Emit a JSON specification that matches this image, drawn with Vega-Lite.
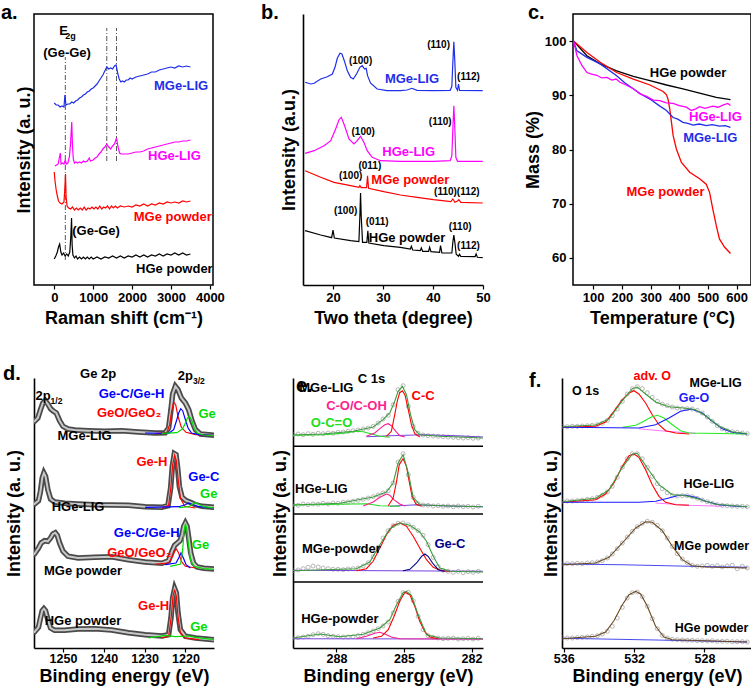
{
  "$schema": "https://vega.github.io/schema/vega-lite/v6.json",
  "background": "white",
  "padding": {"left": 0, "top": 2, "right": 0, "bottom": 0},
  "bounds": "full",
  "spacing": 35,
  "resolve": {"scale": {"color": "independent"}},
  "config": {
    "font": "Liberation Sans",
    "view": {"stroke": null},
    "axis": {"grid": false, "labelFont": "Liberation Sans", "labelFontWeight": "bold", "labelFontSize": 13, "labelColor": "#000", "titleFont": "Liberation Sans", "titleFontWeight": "bold", "titleFontSize": 18, "titleColor": "#000", "domainColor": "#000", "domainWidth": 1.6, "tickColor": "#000", "tickWidth": 1.2, "tickSize": 4, "labelPadding": 2, "labelFlush": false, "labelOverlap": false},
    "title": {"font": "Liberation Sans", "fontWeight": "bold", "fontSize": 20, "anchor": "start", "frame": "group", "offset": 0, "baseline": "alphabetic", "color": "#000"},
    "text": {"font": "Liberation Sans", "fontWeight": "bold"}
  },
  "datasets": {
    "raman": [
      {"s":"MGe-LIG","x":0,"y":182},{"s":"MGe-LIG","x":50,"y":180},{"s":"MGe-LIG","x":100,"y":180},{"s":"MGe-LIG","x":150,"y":178},{"s":"MGe-LIG","x":200,"y":179},{"s":"MGe-LIG","x":250,"y":178},{"s":"MGe-LIG","x":275,"y":190},{"s":"MGe-LIG","x":300,"y":180},{"s":"MGe-LIG","x":350,"y":181},{"s":"MGe-LIG","x":400,"y":181},{"s":"MGe-LIG","x":450,"y":183},{"s":"MGe-LIG","x":500,"y":182},{"s":"MGe-LIG","x":550,"y":184},{"s":"MGe-LIG","x":600,"y":185},{"s":"MGe-LIG","x":650,"y":187},{"s":"MGe-LIG","x":700,"y":188},{"s":"MGe-LIG","x":750,"y":190},{"s":"MGe-LIG","x":800,"y":191},{"s":"MGe-LIG","x":850,"y":193},{"s":"MGe-LIG","x":900,"y":194},{"s":"MGe-LIG","x":950,"y":196},{"s":"MGe-LIG","x":1000,"y":197},{"s":"MGe-LIG","x":1050,"y":199},{"s":"MGe-LIG","x":1100,"y":201},{"s":"MGe-LIG","x":1150,"y":204},{"s":"MGe-LIG","x":1200,"y":207},{"s":"MGe-LIG","x":1250,"y":210},{"s":"MGe-LIG","x":1300,"y":214},{"s":"MGe-LIG","x":1350,"y":218},{"s":"MGe-LIG","x":1400,"y":216},{"s":"MGe-LIG","x":1450,"y":217},{"s":"MGe-LIG","x":1500,"y":216},{"s":"MGe-LIG","x":1550,"y":219},{"s":"MGe-LIG","x":1590,"y":220},{"s":"MGe-LIG","x":1630,"y":212},{"s":"MGe-LIG","x":1670,"y":206},{"s":"MGe-LIG","x":1710,"y":203},{"s":"MGe-LIG","x":1750,"y":204},{"s":"MGe-LIG","x":1800,"y":203},{"s":"MGe-LIG","x":1850,"y":205},{"s":"MGe-LIG","x":1900,"y":205},{"s":"MGe-LIG","x":1950,"y":207},{"s":"MGe-LIG","x":2000,"y":206},{"s":"MGe-LIG","x":2100,"y":208},{"s":"MGe-LIG","x":2200,"y":209},{"s":"MGe-LIG","x":2300,"y":210},{"s":"MGe-LIG","x":2400,"y":211},{"s":"MGe-LIG","x":2500,"y":213},{"s":"MGe-LIG","x":2600,"y":213},{"s":"MGe-LIG","x":2700,"y":215},{"s":"MGe-LIG","x":2800,"y":216},{"s":"MGe-LIG","x":2900,"y":217},{"s":"MGe-LIG","x":3000,"y":218},{"s":"MGe-LIG","x":3100,"y":217},{"s":"MGe-LIG","x":3200,"y":219},{"s":"MGe-LIG","x":3300,"y":218},{"s":"MGe-LIG","x":3400,"y":219},{"s":"MGe-LIG","x":3500,"y":218},
      {"s":"HGe-LIG","x":20,"y":119},{"s":"HGe-LIG","x":60,"y":120},{"s":"HGe-LIG","x":100,"y":121},{"s":"HGe-LIG","x":130,"y":127},{"s":"HGe-LIG","x":157,"y":132},{"s":"HGe-LIG","x":175,"y":121},{"s":"HGe-LIG","x":210,"y":122},{"s":"HGe-LIG","x":250,"y":121},{"s":"HGe-LIG","x":285,"y":125},{"s":"HGe-LIG","x":310,"y":121},{"s":"HGe-LIG","x":350,"y":122},{"s":"HGe-LIG","x":390,"y":128},{"s":"HGe-LIG","x":420,"y":142},{"s":"HGe-LIG","x":450,"y":163},{"s":"HGe-LIG","x":470,"y":138},{"s":"HGe-LIG","x":490,"y":126},{"s":"HGe-LIG","x":520,"y":122},{"s":"HGe-LIG","x":560,"y":123},{"s":"HGe-LIG","x":600,"y":122},{"s":"HGe-LIG","x":650,"y":123},{"s":"HGe-LIG","x":700,"y":122},{"s":"HGe-LIG","x":750,"y":124},{"s":"HGe-LIG","x":800,"y":123},{"s":"HGe-LIG","x":850,"y":124},{"s":"HGe-LIG","x":900,"y":127},{"s":"HGe-LIG","x":930,"y":124},{"s":"HGe-LIG","x":1000,"y":125},{"s":"HGe-LIG","x":1050,"y":127},{"s":"HGe-LIG","x":1100,"y":128},{"s":"HGe-LIG","x":1150,"y":131},{"s":"HGe-LIG","x":1200,"y":133},{"s":"HGe-LIG","x":1250,"y":136},{"s":"HGe-LIG","x":1300,"y":138},{"s":"HGe-LIG","x":1350,"y":141},{"s":"HGe-LIG","x":1400,"y":138},{"s":"HGe-LIG","x":1450,"y":136},{"s":"HGe-LIG","x":1500,"y":139},{"s":"HGe-LIG","x":1550,"y":141},{"s":"HGe-LIG","x":1600,"y":147},{"s":"HGe-LIG","x":1640,"y":138},{"s":"HGe-LIG","x":1680,"y":132},{"s":"HGe-LIG","x":1720,"y":131},{"s":"HGe-LIG","x":1800,"y":131},{"s":"HGe-LIG","x":1900,"y":131},{"s":"HGe-LIG","x":2000,"y":132},{"s":"HGe-LIG","x":2100,"y":133},{"s":"HGe-LIG","x":2200,"y":133},{"s":"HGe-LIG","x":2300,"y":134},{"s":"HGe-LIG","x":2400,"y":136},{"s":"HGe-LIG","x":2500,"y":137},{"s":"HGe-LIG","x":2600,"y":138},{"s":"HGe-LIG","x":2700,"y":139},{"s":"HGe-LIG","x":2800,"y":140},{"s":"HGe-LIG","x":2900,"y":141},{"s":"HGe-LIG","x":3000,"y":142},{"s":"HGe-LIG","x":3100,"y":143},{"s":"HGe-LIG","x":3200,"y":143},{"s":"HGe-LIG","x":3300,"y":144},{"s":"HGe-LIG","x":3400,"y":144},{"s":"HGe-LIG","x":3500,"y":145},
      {"s":"MGe powder","x":0,"y":113},{"s":"MGe powder","x":20,"y":104},{"s":"MGe powder","x":50,"y":95},{"s":"MGe powder","x":80,"y":89},{"s":"MGe powder","x":110,"y":84},{"s":"MGe powder","x":150,"y":82},{"s":"MGe powder","x":200,"y":81},{"s":"MGe powder","x":250,"y":83},{"s":"MGe powder","x":275,"y":98},{"s":"MGe powder","x":290,"y":111},{"s":"MGe powder","x":305,"y":88},{"s":"MGe powder","x":330,"y":79},{"s":"MGe powder","x":370,"y":77},{"s":"MGe powder","x":420,"y":76},{"s":"MGe powder","x":470,"y":78},{"s":"MGe powder","x":520,"y":75},{"s":"MGe powder","x":570,"y":77},{"s":"MGe powder","x":620,"y":75},{"s":"MGe powder","x":670,"y":77},{"s":"MGe powder","x":720,"y":75},{"s":"MGe powder","x":770,"y":78},{"s":"MGe powder","x":820,"y":75},{"s":"MGe powder","x":870,"y":77},{"s":"MGe powder","x":920,"y":76},{"s":"MGe powder","x":970,"y":78},{"s":"MGe powder","x":1020,"y":76},{"s":"MGe powder","x":1070,"y":78},{"s":"MGe powder","x":1120,"y":76},{"s":"MGe powder","x":1170,"y":79},{"s":"MGe powder","x":1220,"y":76},{"s":"MGe powder","x":1270,"y":78},{"s":"MGe powder","x":1320,"y":77},{"s":"MGe powder","x":1370,"y":79},{"s":"MGe powder","x":1420,"y":76},{"s":"MGe powder","x":1470,"y":79},{"s":"MGe powder","x":1520,"y":77},{"s":"MGe powder","x":1570,"y":79},{"s":"MGe powder","x":1620,"y":77},{"s":"MGe powder","x":1700,"y":79},{"s":"MGe powder","x":1800,"y":78},{"s":"MGe powder","x":1900,"y":79},{"s":"MGe powder","x":2000,"y":78},{"s":"MGe powder","x":2100,"y":80},{"s":"MGe powder","x":2200,"y":79},{"s":"MGe powder","x":2300,"y":81},{"s":"MGe powder","x":2400,"y":79},{"s":"MGe powder","x":2500,"y":81},{"s":"MGe powder","x":2600,"y":80},{"s":"MGe powder","x":2700,"y":82},{"s":"MGe powder","x":2800,"y":81},{"s":"MGe powder","x":2900,"y":83},{"s":"MGe powder","x":3000,"y":82},{"s":"MGe powder","x":3100,"y":83},{"s":"MGe powder","x":3200,"y":82},{"s":"MGe powder","x":3300,"y":84},{"s":"MGe powder","x":3400,"y":83},{"s":"MGe powder","x":3500,"y":84},
      {"s":"HGe powder","x":0,"y":26},{"s":"HGe powder","x":40,"y":29},{"s":"HGe powder","x":80,"y":33},{"s":"HGe powder","x":110,"y":38},{"s":"HGe powder","x":140,"y":41},{"s":"HGe powder","x":170,"y":33},{"s":"HGe powder","x":200,"y":30},{"s":"HGe powder","x":240,"y":32},{"s":"HGe powder","x":280,"y":29},{"s":"HGe powder","x":320,"y":31},{"s":"HGe powder","x":360,"y":29},{"s":"HGe powder","x":400,"y":33},{"s":"HGe powder","x":425,"y":48},{"s":"HGe powder","x":445,"y":67},{"s":"HGe powder","x":460,"y":40},{"s":"HGe powder","x":480,"y":30},{"s":"HGe powder","x":520,"y":27},{"s":"HGe powder","x":560,"y":29},{"s":"HGe powder","x":600,"y":26},{"s":"HGe powder","x":650,"y":28},{"s":"HGe powder","x":700,"y":26},{"s":"HGe powder","x":750,"y":28},{"s":"HGe powder","x":800,"y":26},{"s":"HGe powder","x":850,"y":28},{"s":"HGe powder","x":900,"y":26},{"s":"HGe powder","x":950,"y":28},{"s":"HGe powder","x":1000,"y":26},{"s":"HGe powder","x":1100,"y":28},{"s":"HGe powder","x":1200,"y":26},{"s":"HGe powder","x":1300,"y":28},{"s":"HGe powder","x":1400,"y":27},{"s":"HGe powder","x":1500,"y":29},{"s":"HGe powder","x":1600,"y":27},{"s":"HGe powder","x":1700,"y":29},{"s":"HGe powder","x":1800,"y":27},{"s":"HGe powder","x":1900,"y":29},{"s":"HGe powder","x":2000,"y":28},{"s":"HGe powder","x":2100,"y":30},{"s":"HGe powder","x":2200,"y":28},{"s":"HGe powder","x":2300,"y":30},{"s":"HGe powder","x":2400,"y":28},{"s":"HGe powder","x":2500,"y":30},{"s":"HGe powder","x":2600,"y":29},{"s":"HGe powder","x":2700,"y":31},{"s":"HGe powder","x":2800,"y":29},{"s":"HGe powder","x":2900,"y":31},{"s":"HGe powder","x":3000,"y":30},{"s":"HGe powder","x":3100,"y":32},{"s":"HGe powder","x":3200,"y":30},{"s":"HGe powder","x":3300,"y":32},{"s":"HGe powder","x":3400,"y":30},{"s":"HGe powder","x":3500,"y":31}
    ],
    "ramanRules": [{"x":285,"y":25,"y2":228},{"x":1350,"y":124,"y2":257},{"x":1600,"y":124,"y2":257}],
    "ramanText": [
      {"t":"(Ge-Ge)","s":"tag","x":329,"y":232},{"t":"E","s":"tag","x":239,"y":254},
      {"t":"MGe-LIG","s":"MGe-LIG","x":3260,"y":199},{"t":"HGe-LIG","s":"HGe-LIG","x":3088,"y":129},
      {"t":"MGe powder","s":"MGe powder","x":3046,"y":68},{"t":"(Ge-Ge)","s":"tag","x":1075,"y":54},
      {"t":"HGe powder","s":"HGe powder","x":3088,"y":16}
    ],
    "ramanSub": [{"t":"2g","s":"tag","x":416,"y":249}],
    "xrd": [
      {"s":"MGe-LIG","x":14.42,"y":202.7},{"s":"MGe-LIG","x":15.55,"y":201},{"s":"MGe-LIG","x":16.22,"y":201.7},{"s":"MGe-LIG","x":17.54,"y":206},{"s":"MGe-LIG","x":18.87,"y":208.3},{"s":"MGe-LIG","x":19.87,"y":211},{"s":"MGe-LIG","x":20.4,"y":217.7},{"s":"MGe-LIG","x":20.86,"y":226.7},{"s":"MGe-LIG","x":21.39,"y":231.7},{"s":"MGe-LIG","x":21.79,"y":231},{"s":"MGe-LIG","x":22.26,"y":224.3},{"s":"MGe-LIG","x":22.86,"y":214.3},{"s":"MGe-LIG","x":23.52,"y":207.7},{"s":"MGe-LIG","x":24.05,"y":206},{"s":"MGe-LIG","x":24.71,"y":211},{"s":"MGe-LIG","x":25.38,"y":217.7},{"s":"MGe-LIG","x":25.84,"y":219.3},{"s":"MGe-LIG","x":26.31,"y":216},{"s":"MGe-LIG","x":26.64,"y":216.7},{"s":"MGe-LIG","x":26.91,"y":209.3},{"s":"MGe-LIG","x":27.5,"y":202},{"s":"MGe-LIG","x":28.83,"y":196},{"s":"MGe-LIG","x":30.82,"y":194.3},{"s":"MGe-LIG","x":33.48,"y":194.3},{"s":"MGe-LIG","x":34.81,"y":195},{"s":"MGe-LIG","x":35.8,"y":196.7},{"s":"MGe-LIG","x":36.8,"y":194.7},{"s":"MGe-LIG","x":40.12,"y":194.3},{"s":"MGe-LIG","x":43.44,"y":194.7},{"s":"MGe-LIG","x":43.77,"y":198.7},{"s":"MGe-LIG","x":43.97,"y":222.7},{"s":"MGe-LIG","x":44.17,"y":243.3},{"s":"MGe-LIG","x":44.37,"y":222.7},{"s":"MGe-LIG","x":44.57,"y":197.7},{"s":"MGe-LIG","x":44.9,"y":194.7},{"s":"MGe-LIG","x":45.1,"y":201},{"s":"MGe-LIG","x":45.3,"y":194.7},{"s":"MGe-LIG","x":49.95,"y":194.3},
      {"s":"HGe-LIG","x":14.42,"y":131.7},{"s":"HGe-LIG","x":16.22,"y":134.3},{"s":"HGe-LIG","x":18.21,"y":139.3},{"s":"HGe-LIG","x":19.54,"y":144.3},{"s":"HGe-LIG","x":20.53,"y":156},{"s":"HGe-LIG","x":21.2,"y":165.3},{"s":"HGe-LIG","x":21.66,"y":167.7},{"s":"HGe-LIG","x":22.32,"y":159.3},{"s":"HGe-LIG","x":23.19,"y":146},{"s":"HGe-LIG","x":24.18,"y":141},{"s":"HGe-LIG","x":24.85,"y":144.3},{"s":"HGe-LIG","x":25.51,"y":148.7},{"s":"HGe-LIG","x":26.18,"y":142.7},{"s":"HGe-LIG","x":26.84,"y":134.3},{"s":"HGe-LIG","x":27.84,"y":127.7},{"s":"HGe-LIG","x":29.5,"y":124.3},{"s":"HGe-LIG","x":33.48,"y":123.7},{"s":"HGe-LIG","x":40.12,"y":123.7},{"s":"HGe-LIG","x":43.44,"y":124.3},{"s":"HGe-LIG","x":43.77,"y":129.3},{"s":"HGe-LIG","x":43.97,"y":156},{"s":"HGe-LIG","x":44.17,"y":179.3},{"s":"HGe-LIG","x":44.37,"y":156},{"s":"HGe-LIG","x":44.57,"y":127.7},{"s":"HGe-LIG","x":44.9,"y":123.7},{"s":"HGe-LIG","x":49.95,"y":123.7},
      {"s":"MGe powder","x":14.42,"y":114.3},{"s":"MGe powder","x":17.54,"y":107.7},{"s":"MGe powder","x":20.2,"y":102.7},{"s":"MGe powder","x":23.52,"y":99.3},{"s":"MGe powder","x":25.18,"y":97.7},{"s":"MGe powder","x":25.38,"y":99.3},{"s":"MGe powder","x":25.64,"y":97.3},{"s":"MGe powder","x":26.71,"y":97.3},{"s":"MGe powder","x":26.91,"y":109.3},{"s":"MGe powder","x":27.11,"y":96.7},{"s":"MGe powder","x":30.16,"y":93.3},{"s":"MGe powder","x":33.48,"y":90},{"s":"MGe powder","x":36.8,"y":87.7},{"s":"MGe powder","x":40.12,"y":85.3},{"s":"MGe powder","x":43.57,"y":83.3},{"s":"MGe powder","x":43.97,"y":86},{"s":"MGe powder","x":44.37,"y":82.7},{"s":"MGe powder","x":44.9,"y":84},{"s":"MGe powder","x":45.17,"y":85.3},{"s":"MGe powder","x":45.56,"y":82.7},{"s":"MGe powder","x":49.95,"y":82},
      {"s":"HGe powder","x":14.42,"y":54.3},{"s":"HGe powder","x":17.54,"y":50},{"s":"HGe powder","x":19.73,"y":47.3},{"s":"HGe powder","x":20,"y":55},{"s":"HGe powder","x":20.27,"y":47},{"s":"HGe powder","x":23.52,"y":44.3},{"s":"HGe powder","x":25.18,"y":43.3},{"s":"HGe powder","x":25.38,"y":69.3},{"s":"HGe powder","x":25.51,"y":92},{"s":"HGe powder","x":25.64,"y":69.3},{"s":"HGe powder","x":25.91,"y":42.7},{"s":"HGe powder","x":26.77,"y":42.7},{"s":"HGe powder","x":26.97,"y":54.3},{"s":"HGe powder","x":27.17,"y":42},{"s":"HGe powder","x":30.16,"y":39.3},{"s":"HGe powder","x":33.48,"y":37.7},{"s":"HGe powder","x":35.47,"y":36},{"s":"HGe powder","x":35.67,"y":38.7},{"s":"HGe powder","x":35.94,"y":35},{"s":"HGe powder","x":37.46,"y":34.3},{"s":"HGe powder","x":37.66,"y":37},{"s":"HGe powder","x":37.93,"y":33.7},{"s":"HGe powder","x":39.12,"y":33.7},{"s":"HGe powder","x":39.32,"y":37.7},{"s":"HGe powder","x":39.59,"y":33.3},{"s":"HGe powder","x":41.31,"y":32.7},{"s":"HGe powder","x":41.51,"y":39.3},{"s":"HGe powder","x":41.78,"y":32},{"s":"HGe powder","x":43.77,"y":32},{"s":"HGe powder","x":43.97,"y":42.7},{"s":"HGe powder","x":44.17,"y":50},{"s":"HGe powder","x":44.37,"y":42.7},{"s":"HGe powder","x":44.64,"y":30.7},{"s":"HGe powder","x":45.1,"y":28.7},{"s":"HGe powder","x":45.3,"y":30.7},{"s":"HGe powder","x":45.56,"y":28.7},{"s":"HGe powder","x":48.42,"y":28.3},{"s":"HGe powder","x":48.62,"y":31},{"s":"HGe powder","x":48.88,"y":27.7},{"s":"HGe powder","x":49.95,"y":27.3}
    ],
    "xrdSeries": [
      {"t":"MGe-LIG","s":"MGe-LIG","x":35.8,"y":206},{"t":"HGe-LIG","s":"HGe-LIG","x":35.14,"y":132.7},
      {"t":"MGe powder","s":"MGe powder","x":35.47,"y":105.3},{"t":"HGe powder","s":"HGe powder","x":34.81,"y":46.7}
    ],
    "xrdPeaks": [
      {"t":"(100)","s":"tag","x":25.51,"y":224.3},{"t":"(110)","s":"tag","x":41.12,"y":240.3},{"t":"(112)","s":"tag","x":47.09,"y":208.3},
      {"t":"(100)","s":"tag","x":26.04,"y":152.7},{"t":"(110)","s":"tag","x":41.45,"y":163.3},
      {"t":"(011)","s":"tag","x":27.37,"y":119.3},{"t":"(100)","s":"tag","x":23.52,"y":109.3},{"t":"(110)(112)","s":"tag","x":44.77,"y":92.7},
      {"t":"(100)","s":"tag","x":22.52,"y":74.3},{"t":"(011)","s":"tag","x":28.83,"y":62.7},{"t":"(110)","s":"tag","x":45.43,"y":57.7},{"t":"(112)","s":"tag","x":47.09,"y":38.7}
    ],
    "tga": [
      {"s":"HGe powder","x":32,"y":100},{"s":"HGe powder","x":78.5,"y":97.3},{"s":"HGe powder","x":124.7,"y":95.8},{"s":"HGe powder","x":182,"y":94.5},{"s":"HGe powder","x":240,"y":93.5},{"s":"HGe powder","x":298,"y":92.7},{"s":"HGe powder","x":355.6,"y":91.9},{"s":"HGe powder","x":413,"y":91.2},{"s":"HGe powder","x":471,"y":90.4},{"s":"HGe powder","x":529,"y":89.6},{"s":"HGe powder","x":578.5,"y":89.2},
      {"s":"MGe powder","x":32,"y":100},{"s":"MGe powder","x":78.5,"y":97.9},{"s":"MGe powder","x":124.7,"y":96.1},{"s":"MGe powder","x":182,"y":94.2},{"s":"MGe powder","x":240,"y":93},{"s":"MGe powder","x":298,"y":91.9},{"s":"MGe powder","x":344,"y":90.7},{"s":"MGe powder","x":355.6,"y":90.1},{"s":"MGe powder","x":361,"y":89.3},{"s":"MGe powder","x":367,"y":87.5},{"s":"MGe powder","x":373,"y":85},{"s":"MGe powder","x":378.7,"y":82.6},{"s":"MGe powder","x":390,"y":80.1},{"s":"MGe powder","x":407.6,"y":77.6},{"s":"MGe powder","x":436.5,"y":75.8},{"s":"MGe powder","x":471,"y":74.6},{"s":"MGe powder","x":494,"y":73.6},{"s":"MGe powder","x":505.7,"y":72.1},{"s":"MGe powder","x":517,"y":69},{"s":"MGe powder","x":528.9,"y":66},{"s":"MGe powder","x":540,"y":63.5},{"s":"MGe powder","x":557.7,"y":62},{"s":"MGe powder","x":578.5,"y":60.8},
      {"s":"MGe-LIG","x":32,"y":100},{"s":"MGe-LIG","x":43.9,"y":98.2},{"s":"MGe-LIG","x":78.5,"y":97},{"s":"MGe-LIG","x":124.7,"y":95.8},{"s":"MGe-LIG","x":182,"y":93.6},{"s":"MGe-LIG","x":210,"y":92.3},{"s":"MGe-LIG","x":240,"y":91.2},{"s":"MGe-LIG","x":270,"y":90.1},{"s":"MGe-LIG","x":298,"y":89.3},{"s":"MGe-LIG","x":330,"y":88.1},{"s":"MGe-LIG","x":355.6,"y":87.2},{"s":"MGe-LIG","x":378.7,"y":85.9},{"s":"MGe-LIG","x":395,"y":85.6},{"s":"MGe-LIG","x":413,"y":85},{"s":"MGe-LIG","x":430,"y":84.8},{"s":"MGe-LIG","x":448,"y":84.5},{"s":"MGe-LIG","x":470,"y":84.7},{"s":"MGe-LIG","x":494,"y":84.4},{"s":"MGe-LIG","x":515,"y":84.6},{"s":"MGe-LIG","x":540,"y":84.3},{"s":"MGe-LIG","x":560,"y":84.4},{"s":"MGe-LIG","x":578.5,"y":84.1},
      {"s":"HGe-LIG","x":32,"y":100},{"s":"HGe-LIG","x":43.9,"y":97.3},{"s":"HGe-LIG","x":61,"y":95.5},{"s":"HGe-LIG","x":78.5,"y":94.2},{"s":"HGe-LIG","x":95,"y":93.9},{"s":"HGe-LIG","x":113,"y":93.7},{"s":"HGe-LIG","x":130,"y":93.2},{"s":"HGe-LIG","x":148,"y":93.3},{"s":"HGe-LIG","x":165,"y":92.8},{"s":"HGe-LIG","x":180,"y":93},{"s":"HGe-LIG","x":194,"y":92.4},{"s":"HGe-LIG","x":215,"y":91.9},{"s":"HGe-LIG","x":240,"y":91.2},{"s":"HGe-LIG","x":262,"y":90.3},{"s":"HGe-LIG","x":286,"y":89.8},{"s":"HGe-LIG","x":310,"y":89.1},{"s":"HGe-LIG","x":332.5,"y":89},{"s":"HGe-LIG","x":355,"y":88.6},{"s":"HGe-LIG","x":378.7,"y":88.5},{"s":"HGe-LIG","x":400,"y":88.1},{"s":"HGe-LIG","x":425,"y":87.8},{"s":"HGe-LIG","x":442,"y":87.2},{"s":"HGe-LIG","x":458,"y":87.5},{"s":"HGe-LIG","x":471,"y":87.9},{"s":"HGe-LIG","x":490,"y":87.6},{"s":"HGe-LIG","x":517,"y":88},{"s":"HGe-LIG","x":535,"y":87.8},{"s":"HGe-LIG","x":552,"y":88.2},{"s":"HGe-LIG","x":569,"y":88.5},{"s":"HGe-LIG","x":578.5,"y":88.1}
    ],
    "tgaText": [
      {"t":"HGe powder","s":"HGe powder","x":430.7,"y":94.06},{"t":"HGe-LIG","s":"HGe-LIG","x":526,"y":86.05},
      {"t":"MGe-LIG","s":"MGe-LIG","x":508,"y":82.06},{"t":"MGe powder","s":"MGe powder","x":352,"y":72.1}
    ],
    "ge2p": [
      {"s":"MGe-LIG","k":"data","x":1258.79,"y":225},{"s":"MGe-LIG","k":"data","x":1256.98,"y":226.7},{"s":"MGe-LIG","k":"data","x":1256.16,"y":230},{"s":"MGe-LIG","k":"data","x":1255.51,"y":238.3},{"s":"MGe-LIG","k":"data","x":1254.93,"y":245},{"s":"MGe-LIG","k":"data","x":1254.36,"y":247.3},{"s":"MGe-LIG","k":"data","x":1253.7,"y":244},{"s":"MGe-LIG","k":"data","x":1253.04,"y":239.3},{"s":"MGe-LIG","k":"data","x":1252.47,"y":237.3},{"s":"MGe-LIG","k":"data","x":1251.64,"y":235},{"s":"MGe-LIG","k":"data","x":1250.82,"y":227.3},{"s":"MGe-LIG","k":"data","x":1250,"y":221.7},{"s":"MGe-LIG","k":"data","x":1248.77,"y":219},{"s":"MGe-LIG","k":"data","x":1247.12,"y":218},{"s":"MGe-LIG","k":"data","x":1243.84,"y":217.3},{"s":"MGe-LIG","k":"data","x":1239.73,"y":216.7},{"s":"MGe-LIG","k":"data","x":1235.62,"y":217.3},{"s":"MGe-LIG","k":"data","x":1231.51,"y":216},{"s":"MGe-LIG","k":"data","x":1227.4,"y":215},{"s":"MGe-LIG","k":"data","x":1224.94,"y":215.3},{"s":"MGe-LIG","k":"data","x":1224.12,"y":220},{"s":"MGe-LIG","k":"data","x":1223.54,"y":238.3},{"s":"MGe-LIG","k":"data","x":1223.13,"y":254},{"s":"MGe-LIG","k":"data","x":1222.47,"y":261.7},{"s":"MGe-LIG","k":"data","x":1221.82,"y":258.3},{"s":"MGe-LIG","k":"data","x":1221,"y":250},{"s":"MGe-LIG","k":"data","x":1220.01,"y":245},{"s":"MGe-LIG","k":"data","x":1219.19,"y":238.3},{"s":"MGe-LIG","k":"data","x":1218.37,"y":226.7},{"s":"MGe-LIG","k":"data","x":1217.54,"y":218.3},{"s":"MGe-LIG","k":"data","x":1216.31,"y":214},{"s":"MGe-LIG","k":"data","x":1214.26,"y":213.3},{"s":"MGe-LIG","k":"data","x":1212.94,"y":212.7},
      {"s":"MGe-LIG","k":"GeO/GeO2","x":1227.4,"y":214.3},{"s":"MGe-LIG","k":"GeO/GeO2","x":1224.53,"y":215.7},{"s":"MGe-LIG","k":"GeO/GeO2","x":1223.87,"y":223.3},{"s":"MGe-LIG","k":"GeO/GeO2","x":1223.38,"y":236.7},{"s":"MGe-LIG","k":"GeO/GeO2","x":1222.88,"y":246},{"s":"MGe-LIG","k":"GeO/GeO2","x":1222.39,"y":243.3},{"s":"MGe-LIG","k":"GeO/GeO2","x":1221.82,"y":231.7},{"s":"MGe-LIG","k":"GeO/GeO2","x":1221,"y":220.7},{"s":"MGe-LIG","k":"GeO/GeO2","x":1219.85,"y":215.7},{"s":"MGe-LIG","k":"GeO/GeO2","x":1217.54,"y":213.3},{"s":"MGe-LIG","k":"GeO/GeO2","x":1212.94,"y":212.7},
      {"s":"MGe-LIG","k":"Ge-C/Ge-H","x":1229.87,"y":215},{"s":"MGe-LIG","k":"Ge-C/Ge-H","x":1224.12,"y":214.7},{"s":"MGe-LIG","k":"Ge-C/Ge-H","x":1222.88,"y":218.3},{"s":"MGe-LIG","k":"Ge-C/Ge-H","x":1222.23,"y":226.7},{"s":"MGe-LIG","k":"Ge-C/Ge-H","x":1221.65,"y":235},{"s":"MGe-LIG","k":"Ge-C/Ge-H","x":1221.16,"y":239.3},{"s":"MGe-LIG","k":"Ge-C/Ge-H","x":1220.67,"y":237.3},{"s":"MGe-LIG","k":"Ge-C/Ge-H","x":1220.01,"y":228.3},{"s":"MGe-LIG","k":"Ge-C/Ge-H","x":1219.35,"y":220},{"s":"MGe-LIG","k":"Ge-C/Ge-H","x":1218.53,"y":215},{"s":"MGe-LIG","k":"Ge-C/Ge-H","x":1216.72,"y":213.3},{"s":"MGe-LIG","k":"Ge-C/Ge-H","x":1212.94,"y":212.7},
      {"s":"MGe-LIG","k":"Ge","x":1225.76,"y":214.7},{"s":"MGe-LIG","k":"Ge","x":1222.06,"y":215.3},{"s":"MGe-LIG","k":"Ge","x":1220.67,"y":219.3},{"s":"MGe-LIG","k":"Ge","x":1220.01,"y":225},{"s":"MGe-LIG","k":"Ge","x":1219.52,"y":230},{"s":"MGe-LIG","k":"Ge","x":1219.02,"y":231.7},{"s":"MGe-LIG","k":"Ge","x":1218.53,"y":228.3},{"s":"MGe-LIG","k":"Ge","x":1217.87,"y":220},{"s":"MGe-LIG","k":"Ge","x":1217.05,"y":214.7},{"s":"MGe-LIG","k":"Ge","x":1215.49,"y":213},{"s":"MGe-LIG","k":"Ge","x":1212.94,"y":212.3},
      {"s":"HGe-LIG","k":"data","x":1258.79,"y":143.3},{"s":"HGe-LIG","k":"data","x":1256.98,"y":144},{"s":"HGe-LIG","k":"data","x":1256,"y":147.3},{"s":"HGe-LIG","k":"data","x":1255.51,"y":156.7},{"s":"HGe-LIG","k":"data","x":1255.09,"y":170},{"s":"HGe-LIG","k":"data","x":1254.68,"y":175},{"s":"HGe-LIG","k":"data","x":1254.27,"y":171.7},{"s":"HGe-LIG","k":"data","x":1253.7,"y":158.3},{"s":"HGe-LIG","k":"data","x":1253.04,"y":149},{"s":"HGe-LIG","k":"data","x":1252.05,"y":146},{"s":"HGe-LIG","k":"data","x":1249.59,"y":144.7},{"s":"HGe-LIG","k":"data","x":1246.3,"y":144},{"s":"HGe-LIG","k":"data","x":1242.19,"y":143.3},{"s":"HGe-LIG","k":"data","x":1238.09,"y":143},{"s":"HGe-LIG","k":"data","x":1233.98,"y":142.7},{"s":"HGe-LIG","k":"data","x":1229.87,"y":141.3},{"s":"HGe-LIG","k":"data","x":1225.76,"y":140.7},{"s":"HGe-LIG","k":"data","x":1224.28,"y":142.3},{"s":"HGe-LIG","k":"data","x":1223.62,"y":160},{"s":"HGe-LIG","k":"data","x":1223.21,"y":181.7},{"s":"HGe-LIG","k":"data","x":1222.72,"y":194.3},{"s":"HGe-LIG","k":"data","x":1222.31,"y":193.3},{"s":"HGe-LIG","k":"data","x":1221.9,"y":180},{"s":"HGe-LIG","k":"data","x":1221.49,"y":161.7},{"s":"HGe-LIG","k":"data","x":1220.83,"y":150.7},{"s":"HGe-LIG","k":"data","x":1219.85,"y":147.3},{"s":"HGe-LIG","k":"data","x":1218.78,"y":145.7},{"s":"HGe-LIG","k":"data","x":1217.54,"y":143.3},{"s":"HGe-LIG","k":"data","x":1215.9,"y":141.7},{"s":"HGe-LIG","k":"data","x":1212.94,"y":140.7},
      {"s":"HGe-LIG","k":"Ge-H","x":1225.76,"y":140},{"s":"HGe-LIG","k":"Ge-H","x":1224.12,"y":142.7},{"s":"HGe-LIG","k":"Ge-H","x":1223.54,"y":161.7},{"s":"HGe-LIG","k":"Ge-H","x":1223.13,"y":183.3},{"s":"HGe-LIG","k":"Ge-H","x":1222.64,"y":192.7},{"s":"HGe-LIG","k":"Ge-H","x":1222.23,"y":187.3},{"s":"HGe-LIG","k":"Ge-H","x":1221.82,"y":170},{"s":"HGe-LIG","k":"Ge-H","x":1221.24,"y":150},{"s":"HGe-LIG","k":"Ge-H","x":1220.17,"y":141.7},{"s":"HGe-LIG","k":"Ge-H","x":1217.54,"y":140},
      {"s":"HGe-LIG","k":"Ge-C","x":1229.87,"y":140.7},{"s":"HGe-LIG","k":"Ge-C","x":1221.65,"y":141.3},{"s":"HGe-LIG","k":"Ge-C","x":1220.01,"y":143.3},{"s":"HGe-LIG","k":"Ge-C","x":1219.19,"y":145},{"s":"HGe-LIG","k":"Ge-C","x":1218.37,"y":143.7},{"s":"HGe-LIG","k":"Ge-C","x":1216.72,"y":141.3},{"s":"HGe-LIG","k":"Ge-C","x":1212.94,"y":140},
      {"s":"HGe-LIG","k":"Ge","x":1221.65,"y":140.3},{"s":"HGe-LIG","k":"Ge","x":1219.19,"y":141.3},{"s":"HGe-LIG","k":"Ge","x":1218.2,"y":144},{"s":"HGe-LIG","k":"Ge","x":1217.54,"y":145.3},{"s":"HGe-LIG","k":"Ge","x":1216.88,"y":144},{"s":"HGe-LIG","k":"Ge","x":1215.49,"y":141.3},{"s":"HGe-LIG","k":"Ge","x":1212.94,"y":140},
      {"s":"MGe powder","k":"data","x":1258.79,"y":91.7},{"s":"MGe powder","k":"data","x":1256.98,"y":94},{"s":"MGe powder","k":"data","x":1256,"y":100},{"s":"MGe powder","k":"data","x":1255.34,"y":105},{"s":"MGe powder","k":"data","x":1254.52,"y":107.3},{"s":"MGe powder","k":"data","x":1253.7,"y":106.7},{"s":"MGe powder","k":"data","x":1253.04,"y":110},{"s":"MGe powder","k":"data","x":1252.47,"y":114},{"s":"MGe powder","k":"data","x":1251.89,"y":115.3},{"s":"MGe powder","k":"data","x":1251.4,"y":112.7},{"s":"MGe powder","k":"data","x":1250.82,"y":105},{"s":"MGe powder","k":"data","x":1250,"y":96.7},{"s":"MGe powder","k":"data","x":1248.77,"y":91.7},{"s":"MGe powder","k":"data","x":1246.3,"y":90},{"s":"MGe powder","k":"data","x":1242.19,"y":90.7},{"s":"MGe powder","k":"data","x":1238.09,"y":91.3},{"s":"MGe powder","k":"data","x":1233.98,"y":88.3},{"s":"MGe powder","k":"data","x":1229.87,"y":86},{"s":"MGe powder","k":"data","x":1225.76,"y":84.7},{"s":"MGe powder","k":"data","x":1224.12,"y":87.3},{"s":"MGe powder","k":"data","x":1223.3,"y":96.7},{"s":"MGe powder","k":"data","x":1222.64,"y":102.7},{"s":"MGe powder","k":"data","x":1221.98,"y":105},{"s":"MGe powder","k":"data","x":1221.32,"y":107.3},{"s":"MGe powder","k":"data","x":1220.83,"y":113.3},{"s":"MGe powder","k":"data","x":1220.42,"y":121.7},{"s":"MGe powder","k":"data","x":1220.01,"y":125},{"s":"MGe powder","k":"data","x":1219.6,"y":121.7},{"s":"MGe powder","k":"data","x":1219.19,"y":110},{"s":"MGe powder","k":"data","x":1218.7,"y":95},{"s":"MGe powder","k":"data","x":1218.04,"y":85},{"s":"MGe powder","k":"data","x":1217.13,"y":81},{"s":"MGe powder","k":"data","x":1215.49,"y":79.7},{"s":"MGe powder","k":"data","x":1212.94,"y":79},
      {"s":"MGe powder","k":"GeO/GeO2","x":1227.4,"y":84},{"s":"MGe powder","k":"GeO/GeO2","x":1224.12,"y":85},{"s":"MGe powder","k":"GeO/GeO2","x":1223.13,"y":91.7},{"s":"MGe powder","k":"GeO/GeO2","x":1222.64,"y":96.7},{"s":"MGe powder","k":"GeO/GeO2","x":1222.23,"y":99},{"s":"MGe powder","k":"GeO/GeO2","x":1221.65,"y":95},{"s":"MGe powder","k":"GeO/GeO2","x":1221,"y":86.7},{"s":"MGe powder","k":"GeO/GeO2","x":1220.01,"y":81.7},{"s":"MGe powder","k":"GeO/GeO2","x":1217.54,"y":80},
      {"s":"MGe powder","k":"Ge-C/Ge-H","x":1224.94,"y":83.3},{"s":"MGe powder","k":"Ge-C/Ge-H","x":1222.31,"y":85},{"s":"MGe powder","k":"Ge-C/Ge-H","x":1221.65,"y":90},{"s":"MGe powder","k":"Ge-C/Ge-H","x":1221.08,"y":95},{"s":"MGe powder","k":"Ge-C/Ge-H","x":1220.42,"y":89.3},{"s":"MGe powder","k":"Ge-C/Ge-H","x":1219.85,"y":83.3},{"s":"MGe powder","k":"Ge-C/Ge-H","x":1218.78,"y":80},
      {"s":"MGe powder","k":"Ge","x":1223.71,"y":81.7},{"s":"MGe powder","k":"Ge","x":1221.16,"y":84},{"s":"MGe powder","k":"Ge","x":1220.67,"y":98.3},{"s":"MGe powder","k":"Ge","x":1220.34,"y":116.7},{"s":"MGe powder","k":"Ge","x":1220.01,"y":124.3},{"s":"MGe powder","k":"Ge","x":1219.68,"y":120},{"s":"MGe powder","k":"Ge","x":1219.35,"y":106.7},{"s":"MGe powder","k":"Ge","x":1218.78,"y":88.3},{"s":"MGe powder","k":"Ge","x":1217.95,"y":81.7},{"s":"MGe powder","k":"Ge","x":1215.49,"y":79.3},{"s":"MGe powder","k":"Ge","x":1212.94,"y":78.7},
      {"s":"HGe powder","k":"data","x":1258.79,"y":15},{"s":"HGe powder","k":"data","x":1256.98,"y":16},{"s":"HGe powder","k":"data","x":1256,"y":20.7},{"s":"HGe powder","k":"data","x":1255.51,"y":30},{"s":"HGe powder","k":"data","x":1255.09,"y":37.3},{"s":"HGe powder","k":"data","x":1254.68,"y":39.3},{"s":"HGe powder","k":"data","x":1254.27,"y":37.3},{"s":"HGe powder","k":"data","x":1253.7,"y":28.3},{"s":"HGe powder","k":"data","x":1253.04,"y":20},{"s":"HGe powder","k":"data","x":1252.05,"y":17.7},{"s":"HGe powder","k":"data","x":1249.59,"y":17.7},{"s":"HGe powder","k":"data","x":1246.3,"y":19},{"s":"HGe powder","k":"data","x":1242.19,"y":19.3},{"s":"HGe powder","k":"data","x":1238.09,"y":18},{"s":"HGe powder","k":"data","x":1233.98,"y":15.3},{"s":"HGe powder","k":"data","x":1229.87,"y":13.3},{"s":"HGe powder","k":"data","x":1225.76,"y":12},{"s":"HGe powder","k":"data","x":1224.12,"y":13.3},{"s":"HGe powder","k":"data","x":1223.54,"y":30},{"s":"HGe powder","k":"data","x":1223.13,"y":50},{"s":"HGe powder","k":"data","x":1222.64,"y":59.3},{"s":"HGe powder","k":"data","x":1222.23,"y":55},{"s":"HGe powder","k":"data","x":1221.82,"y":35},{"s":"HGe powder","k":"data","x":1221.24,"y":18.3},{"s":"HGe powder","k":"data","x":1220.01,"y":11.7},{"s":"HGe powder","k":"data","x":1217.54,"y":10},{"s":"HGe powder","k":"data","x":1212.94,"y":8.3},
      {"s":"HGe powder","k":"Ge-H","x":1225.76,"y":10},{"s":"HGe powder","k":"Ge-H","x":1224.12,"y":11.7},{"s":"HGe powder","k":"Ge-H","x":1223.46,"y":31.7},{"s":"HGe powder","k":"Ge-H","x":1223.05,"y":51.7},{"s":"HGe powder","k":"Ge-H","x":1222.64,"y":58.3},{"s":"HGe powder","k":"Ge-H","x":1222.23,"y":51.7},{"s":"HGe powder","k":"Ge-H","x":1221.82,"y":31.7},{"s":"HGe powder","k":"Ge-H","x":1221.24,"y":15},{"s":"HGe powder","k":"Ge-H","x":1220.01,"y":10},{"s":"HGe powder","k":"Ge-H","x":1216.72,"y":8.3},
      {"s":"HGe powder","k":"Ge","x":1229.05,"y":10},{"s":"HGe powder","k":"Ge","x":1224.94,"y":12.7},{"s":"HGe powder","k":"Ge","x":1222.47,"y":11.3},{"s":"HGe powder","k":"Ge","x":1219.19,"y":12},{"s":"HGe powder","k":"Ge","x":1217.54,"y":10.7},{"s":"HGe powder","k":"Ge","x":1212.94,"y":8.3}
    ],
    "ge2pText": [
      {"t":"Ge 2p","k":"sample","x":1241.4,"y":274},{"t":"2p","k":"sample","x":1254.85,"y":251.7},{"t":"2p","k":"sample","x":1220,"y":271.7},
      {"t":"Ge-C/Ge-H","k":"Ge-C/Ge-H","x":1233.2,"y":254},{"t":"GeO/GeO₂","k":"GeO/GeO2","x":1233.8,"y":235},{"t":"Ge","k":"Ge","x":1214.7,"y":234},{"t":"MGe-LIG","k":"sample","x":1244.7,"y":211.7},
      {"t":"Ge-H","k":"Ge-H","x":1228.2,"y":186},{"t":"Ge-C","k":"Ge-C","x":1215.5,"y":170.7},{"t":"Ge","k":"Ge","x":1214.3,"y":154},{"t":"HGe-LIG","k":"sample","x":1246.3,"y":140.7},
      {"t":"Ge-C/Ge-H","k":"Ge-C/Ge-H","x":1229.5,"y":115},{"t":"GeO/GeO₂","k":"GeO/GeO2","x":1231.3,"y":95},{"t":"Ge","k":"Ge","x":1216.3,"y":102.7},{"t":"MGe powder","k":"sample","x":1245.1,"y":76.7},
      {"t":"Ge-H","k":"Ge-H","x":1227.8,"y":41.7},{"t":"Ge","k":"Ge","x":1216.7,"y":20.7},{"t":"HGe powder","k":"sample","x":1245.1,"y":27.3}
    ],
    "ge2pSub": [{"t":"1/2","k":"sample","x":1251.6,"y":247},{"t":"3/2","k":"sample","x":1216.7,"y":267.3}],
    "c1sPts": [
      {"s":"MGe-LIG","x":289.93,"y":213.3},{"s":"MGe-LIG","x":289.7,"y":214},{"s":"MGe-LIG","x":289.48,"y":213.3},{"s":"MGe-LIG","x":289.26,"y":214.3},{"s":"MGe-LIG","x":289.04,"y":213.7},{"s":"MGe-LIG","x":288.81,"y":214.7},{"s":"MGe-LIG","x":288.59,"y":214.3},{"s":"MGe-LIG","x":288.37,"y":215},{"s":"MGe-LIG","x":288.15,"y":214.7},{"s":"MGe-LIG","x":287.93,"y":215.7},{"s":"MGe-LIG","x":287.7,"y":216},{"s":"MGe-LIG","x":287.48,"y":216.7},{"s":"MGe-LIG","x":287.26,"y":217.3},{"s":"MGe-LIG","x":287.04,"y":218},{"s":"MGe-LIG","x":286.81,"y":219},{"s":"MGe-LIG","x":286.59,"y":220},{"s":"MGe-LIG","x":286.37,"y":221.7},{"s":"MGe-LIG","x":286.15,"y":225},{"s":"MGe-LIG","x":285.93,"y":229},{"s":"MGe-LIG","x":285.7,"y":232.7},{"s":"MGe-LIG","x":285.48,"y":243.3},{"s":"MGe-LIG","x":285.26,"y":258.3},{"s":"MGe-LIG","x":285.04,"y":262.3},{"s":"MGe-LIG","x":284.81,"y":241.7},{"s":"MGe-LIG","x":284.59,"y":221.7},{"s":"MGe-LIG","x":284.37,"y":214.7},{"s":"MGe-LIG","x":284.15,"y":213},{"s":"MGe-LIG","x":283.93,"y":212.3},{"s":"MGe-LIG","x":283.7,"y":212},{"s":"MGe-LIG","x":283.48,"y":211.7},{"s":"MGe-LIG","x":283.26,"y":211.3},{"s":"MGe-LIG","x":283.04,"y":211},{"s":"MGe-LIG","x":282.81,"y":210.7},{"s":"MGe-LIG","x":282.59,"y":210.3},{"s":"MGe-LIG","x":282.37,"y":210},{"s":"MGe-LIG","x":282.15,"y":210.3},{"s":"MGe-LIG","x":281.93,"y":209.7},{"s":"MGe-LIG","x":281.7,"y":210},
      {"s":"HGe-LIG","x":289.93,"y":143.3},{"s":"HGe-LIG","x":289.7,"y":142.7},{"s":"HGe-LIG","x":289.48,"y":144},{"s":"HGe-LIG","x":289.26,"y":143.3},{"s":"HGe-LIG","x":289.04,"y":144},{"s":"HGe-LIG","x":288.81,"y":143.7},{"s":"HGe-LIG","x":288.59,"y":144.7},{"s":"HGe-LIG","x":288.37,"y":144},{"s":"HGe-LIG","x":288.15,"y":145},{"s":"HGe-LIG","x":287.93,"y":144.7},{"s":"HGe-LIG","x":287.7,"y":145.7},{"s":"HGe-LIG","x":287.48,"y":146},{"s":"HGe-LIG","x":287.26,"y":146.7},{"s":"HGe-LIG","x":287.04,"y":147.7},{"s":"HGe-LIG","x":286.81,"y":148.7},{"s":"HGe-LIG","x":286.59,"y":150},{"s":"HGe-LIG","x":286.37,"y":151.3},{"s":"HGe-LIG","x":286.15,"y":153},{"s":"HGe-LIG","x":285.93,"y":155},{"s":"HGe-LIG","x":285.7,"y":157.3},{"s":"HGe-LIG","x":285.48,"y":165},{"s":"HGe-LIG","x":285.26,"y":186},{"s":"HGe-LIG","x":285.04,"y":194.3},{"s":"HGe-LIG","x":284.81,"y":173.3},{"s":"HGe-LIG","x":284.59,"y":150.7},{"s":"HGe-LIG","x":284.37,"y":144.3},{"s":"HGe-LIG","x":284.15,"y":143},{"s":"HGe-LIG","x":283.93,"y":142.7},{"s":"HGe-LIG","x":283.7,"y":142},{"s":"HGe-LIG","x":283.48,"y":142.3},{"s":"HGe-LIG","x":283.26,"y":141.7},{"s":"HGe-LIG","x":283.04,"y":142},{"s":"HGe-LIG","x":282.81,"y":141.3},{"s":"HGe-LIG","x":282.59,"y":142},{"s":"HGe-LIG","x":282.37,"y":141.3},{"s":"HGe-LIG","x":282.15,"y":141.7},{"s":"HGe-LIG","x":281.93,"y":141},{"s":"HGe-LIG","x":281.7,"y":141.7},
      {"s":"MGe-powder","x":289.93,"y":77.3},{"s":"MGe-powder","x":289.7,"y":78},{"s":"MGe-powder","x":289.48,"y":79.3},{"s":"MGe-powder","x":289.26,"y":80.7},{"s":"MGe-powder","x":289.04,"y":82},{"s":"MGe-powder","x":288.81,"y":81},{"s":"MGe-powder","x":288.59,"y":80},{"s":"MGe-powder","x":288.37,"y":79.3},{"s":"MGe-powder","x":288.15,"y":78.7},{"s":"MGe-powder","x":287.93,"y":78.7},{"s":"MGe-powder","x":287.7,"y":78.3},{"s":"MGe-powder","x":287.48,"y":79},{"s":"MGe-powder","x":287.26,"y":79.3},{"s":"MGe-powder","x":287.04,"y":80},{"s":"MGe-powder","x":286.81,"y":82},{"s":"MGe-powder","x":286.59,"y":85.3},{"s":"MGe-powder","x":286.37,"y":91.3},{"s":"MGe-powder","x":286.15,"y":100.7},{"s":"MGe-powder","x":285.93,"y":110},{"s":"MGe-powder","x":285.7,"y":117.3},{"s":"MGe-powder","x":285.48,"y":122.3},{"s":"MGe-powder","x":285.26,"y":124.7},{"s":"MGe-powder","x":285.04,"y":125},{"s":"MGe-powder","x":284.81,"y":123.3},{"s":"MGe-powder","x":284.59,"y":120.7},{"s":"MGe-powder","x":284.37,"y":117.3},{"s":"MGe-powder","x":284.15,"y":112.7},{"s":"MGe-powder","x":283.93,"y":103.3},{"s":"MGe-powder","x":283.7,"y":90.7},{"s":"MGe-powder","x":283.48,"y":81.3},{"s":"MGe-powder","x":283.26,"y":77.7},{"s":"MGe-powder","x":283.04,"y":76.7},{"s":"MGe-powder","x":282.81,"y":75.7},{"s":"MGe-powder","x":282.59,"y":76.7},{"s":"MGe-powder","x":282.37,"y":75.3},{"s":"MGe-powder","x":282.15,"y":76.3},{"s":"MGe-powder","x":281.93,"y":75.7},{"s":"MGe-powder","x":281.7,"y":76.7},
      {"s":"HGe-powder","x":289.93,"y":10},{"s":"HGe-powder","x":289.7,"y":10.3},{"s":"HGe-powder","x":289.48,"y":11},{"s":"HGe-powder","x":289.26,"y":11.7},{"s":"HGe-powder","x":289.04,"y":13.3},{"s":"HGe-powder","x":288.81,"y":14.3},{"s":"HGe-powder","x":288.59,"y":13.7},{"s":"HGe-powder","x":288.37,"y":12.3},{"s":"HGe-powder","x":288.15,"y":11.7},{"s":"HGe-powder","x":287.93,"y":11.3},{"s":"HGe-powder","x":287.7,"y":11},{"s":"HGe-powder","x":287.48,"y":11},{"s":"HGe-powder","x":287.26,"y":11.3},{"s":"HGe-powder","x":287.04,"y":12.3},{"s":"HGe-powder","x":286.81,"y":13.7},{"s":"HGe-powder","x":286.59,"y":15.3},{"s":"HGe-powder","x":286.37,"y":17},{"s":"HGe-powder","x":286.15,"y":19.3},{"s":"HGe-powder","x":285.93,"y":22},{"s":"HGe-powder","x":285.7,"y":26},{"s":"HGe-powder","x":285.48,"y":35},{"s":"HGe-powder","x":285.26,"y":46.7},{"s":"HGe-powder","x":285.04,"y":55.3},{"s":"HGe-powder","x":284.81,"y":55.7},{"s":"HGe-powder","x":284.59,"y":47.3},{"s":"HGe-powder","x":284.37,"y":31.7},{"s":"HGe-powder","x":284.15,"y":18.3},{"s":"HGe-powder","x":283.93,"y":12.3},{"s":"HGe-powder","x":283.7,"y":10.7},{"s":"HGe-powder","x":283.48,"y":10},{"s":"HGe-powder","x":283.26,"y":9.3},{"s":"HGe-powder","x":283.04,"y":9.7},{"s":"HGe-powder","x":282.81,"y":10},{"s":"HGe-powder","x":282.59,"y":9},{"s":"HGe-powder","x":282.37,"y":9.3},{"s":"HGe-powder","x":282.15,"y":9.7},{"s":"HGe-powder","x":281.93,"y":9},{"s":"HGe-powder","x":281.7,"y":9.7}
    ],
    "c1sFit": [
      {"s":"MGe-LIG","k":"base","x":286.67,"y":211.3},{"s":"MGe-LIG","k":"base","x":285.63,"y":212.3},{"s":"MGe-LIG","k":"base","x":284.15,"y":213.3},{"s":"MGe-LIG","k":"base","x":282.67,"y":212.3},{"s":"MGe-LIG","k":"base","x":281.49,"y":211},
      {"s":"MGe-LIG","k":"O-C=O","x":289.93,"y":212.7},{"s":"MGe-LIG","k":"O-C=O","x":288.59,"y":213.3},{"s":"MGe-LIG","k":"O-C=O","x":287.7,"y":214.7},{"s":"MGe-LIG","k":"O-C=O","x":287.11,"y":216.7},{"s":"MGe-LIG","k":"O-C=O","x":286.81,"y":216.3},{"s":"MGe-LIG","k":"O-C=O","x":286.44,"y":214},{"s":"MGe-LIG","k":"O-C=O","x":286.07,"y":211.7},{"s":"MGe-LIG","k":"O-C=O","x":285.63,"y":210.7},
      {"s":"MGe-LIG","k":"C-O/C-OH","x":286.67,"y":211.7},{"s":"MGe-LIG","k":"C-O/C-OH","x":286.3,"y":215},{"s":"MGe-LIG","k":"C-O/C-OH","x":286.07,"y":219.3},{"s":"MGe-LIG","k":"C-O/C-OH","x":285.85,"y":223.3},{"s":"MGe-LIG","k":"C-O/C-OH","x":285.7,"y":224.3},{"s":"MGe-LIG","k":"C-O/C-OH","x":285.56,"y":222.3},{"s":"MGe-LIG","k":"C-O/C-OH","x":285.36,"y":216.7},{"s":"MGe-LIG","k":"C-O/C-OH","x":285.19,"y":212.3},{"s":"MGe-LIG","k":"C-O/C-OH","x":284.96,"y":211},
      {"s":"MGe-LIG","k":"C-C","x":285.78,"y":211.7},{"s":"MGe-LIG","k":"C-C","x":285.56,"y":216.7},{"s":"MGe-LIG","k":"C-C","x":285.41,"y":233.3},{"s":"MGe-LIG","k":"C-C","x":285.3,"y":246.7},{"s":"MGe-LIG","k":"C-C","x":285.19,"y":255.3},{"s":"MGe-LIG","k":"C-C","x":285.07,"y":257.3},{"s":"MGe-LIG","k":"C-C","x":284.95,"y":252.7},{"s":"MGe-LIG","k":"C-C","x":284.81,"y":238.3},{"s":"MGe-LIG","k":"C-C","x":284.67,"y":223.3},{"s":"MGe-LIG","k":"C-C","x":284.52,"y":214.3},{"s":"MGe-LIG","k":"C-C","x":284.3,"y":211},
      {"s":"MGe-LIG","k":"env","x":289.93,"y":213},{"s":"MGe-LIG","k":"env","x":288.59,"y":214},{"s":"MGe-LIG","k":"env","x":287.26,"y":216.7},{"s":"MGe-LIG","k":"env","x":286.37,"y":221},{"s":"MGe-LIG","k":"env","x":285.93,"y":228.3},{"s":"MGe-LIG","k":"env","x":285.63,"y":235},{"s":"MGe-LIG","k":"env","x":285.41,"y":246.7},{"s":"MGe-LIG","k":"env","x":285.26,"y":256.7},{"s":"MGe-LIG","k":"env","x":285.07,"y":261.7},{"s":"MGe-LIG","k":"env","x":284.89,"y":253.3},{"s":"MGe-LIG","k":"env","x":284.71,"y":233.3},{"s":"MGe-LIG","k":"env","x":284.52,"y":218.3},{"s":"MGe-LIG","k":"env","x":284.3,"y":213.3},{"s":"MGe-LIG","k":"env","x":283.41,"y":211.7},{"s":"MGe-LIG","k":"env","x":281.49,"y":210},
      {"s":"HGe-LIG","k":"base","x":285.63,"y":141.7},{"s":"HGe-LIG","k":"base","x":284.44,"y":143.3},{"s":"HGe-LIG","k":"base","x":283.41,"y":142.3},{"s":"HGe-LIG","k":"base","x":281.49,"y":141.3},
      {"s":"HGe-LIG","k":"O-C=O","x":289.93,"y":143},{"s":"HGe-LIG","k":"O-C=O","x":287.85,"y":143.7},{"s":"HGe-LIG","k":"O-C=O","x":286.67,"y":144.3},{"s":"HGe-LIG","k":"O-C=O","x":286.07,"y":142.3},{"s":"HGe-LIG","k":"O-C=O","x":285.19,"y":141.7},
      {"s":"HGe-LIG","k":"C-O/C-OH","x":286.81,"y":142},{"s":"HGe-LIG","k":"C-O/C-OH","x":286.37,"y":146},{"s":"HGe-LIG","k":"C-O/C-OH","x":286.07,"y":150.7},{"s":"HGe-LIG","k":"C-O/C-OH","x":285.78,"y":154},{"s":"HGe-LIG","k":"C-O/C-OH","x":285.63,"y":152.7},{"s":"HGe-LIG","k":"C-O/C-OH","x":285.45,"y":148.3},{"s":"HGe-LIG","k":"C-O/C-OH","x":285.19,"y":144},{"s":"HGe-LIG","k":"C-O/C-OH","x":284.96,"y":142},
      {"s":"HGe-LIG","k":"C-C","x":285.7,"y":142.3},{"s":"HGe-LIG","k":"C-C","x":285.48,"y":150},{"s":"HGe-LIG","k":"C-C","x":285.33,"y":166.7},{"s":"HGe-LIG","k":"C-C","x":285.21,"y":183.3},{"s":"HGe-LIG","k":"C-C","x":285.04,"y":189.3},{"s":"HGe-LIG","k":"C-C","x":284.89,"y":181.7},{"s":"HGe-LIG","k":"C-C","x":284.77,"y":166.7},{"s":"HGe-LIG","k":"C-C","x":284.64,"y":151.7},{"s":"HGe-LIG","k":"C-C","x":284.47,"y":144},{"s":"HGe-LIG","k":"C-C","x":284.22,"y":141.7},
      {"s":"HGe-LIG","k":"env","x":289.93,"y":143},{"s":"HGe-LIG","k":"env","x":287.85,"y":144.7},{"s":"HGe-LIG","k":"env","x":286.37,"y":151},{"s":"HGe-LIG","k":"env","x":285.78,"y":156},{"s":"HGe-LIG","k":"env","x":285.48,"y":165},{"s":"HGe-LIG","k":"env","x":285.26,"y":185},{"s":"HGe-LIG","k":"env","x":285.04,"y":193.3},{"s":"HGe-LIG","k":"env","x":284.81,"y":175},{"s":"HGe-LIG","k":"env","x":284.59,"y":150.7},{"s":"HGe-LIG","k":"env","x":284.3,"y":143.3},{"s":"HGe-LIG","k":"env","x":282.96,"y":142},{"s":"HGe-LIG","k":"env","x":281.49,"y":141.3},
      {"s":"MGe-powder","k":"base","x":289.93,"y":77.7},{"s":"MGe-powder","k":"base","x":285.63,"y":77.3},{"s":"MGe-powder","k":"base","x":281.49,"y":76.7},
      {"s":"MGe-powder","k":"C-C","x":287.11,"y":77.3},{"s":"MGe-powder","k":"C-C","x":286.67,"y":79.3},{"s":"MGe-powder","k":"C-C","x":286.37,"y":86.7},{"s":"MGe-powder","k":"C-C","x":286.07,"y":100},{"s":"MGe-powder","k":"C-C","x":285.78,"y":113.3},{"s":"MGe-powder","k":"C-C","x":285.48,"y":122.7},{"s":"MGe-powder","k":"C-C","x":285.16,"y":125},{"s":"MGe-powder","k":"C-C","x":284.89,"y":121.7},{"s":"MGe-powder","k":"C-C","x":284.59,"y":111.7},{"s":"MGe-powder","k":"C-C","x":284.3,"y":100},{"s":"MGe-powder","k":"C-C","x":284,"y":88.3},{"s":"MGe-powder","k":"C-C","x":283.7,"y":80.7},{"s":"MGe-powder","k":"C-C","x":283.33,"y":77.3},{"s":"MGe-powder","k":"C-C","x":282.96,"y":76.7},
      {"s":"MGe-powder","k":"Ge-C","x":285.04,"y":77.3},{"s":"MGe-powder","k":"Ge-C","x":284.74,"y":78.7},{"s":"MGe-powder","k":"Ge-C","x":284.44,"y":85},{"s":"MGe-powder","k":"Ge-C","x":284.22,"y":91.7},{"s":"MGe-powder","k":"Ge-C","x":284.07,"y":94},{"s":"MGe-powder","k":"Ge-C","x":283.93,"y":91.7},{"s":"MGe-powder","k":"Ge-C","x":283.73,"y":85},{"s":"MGe-powder","k":"Ge-C","x":283.48,"y":78.3},{"s":"MGe-powder","k":"Ge-C","x":283.19,"y":76.7},
      {"s":"MGe-powder","k":"env","x":289.93,"y":77.3},{"s":"MGe-powder","k":"env","x":287.11,"y":79.3},{"s":"MGe-powder","k":"env","x":286.52,"y":86},{"s":"MGe-powder","k":"env","x":286.07,"y":103.3},{"s":"MGe-powder","k":"env","x":285.63,"y":119.3},{"s":"MGe-powder","k":"env","x":285.19,"y":125},{"s":"MGe-powder","k":"env","x":284.74,"y":122.7},{"s":"MGe-powder","k":"env","x":284.3,"y":116},{"s":"MGe-powder","k":"env","x":284,"y":106.7},{"s":"MGe-powder","k":"env","x":283.7,"y":91.7},{"s":"MGe-powder","k":"env","x":283.41,"y":80},{"s":"MGe-powder","k":"env","x":282.96,"y":76.7},{"s":"MGe-powder","k":"env","x":281.49,"y":76},
      {"s":"HGe-powder","k":"base","x":289.93,"y":9.3},{"s":"HGe-powder","k":"base","x":281.49,"y":9},
      {"s":"HGe-powder","k":"C-O/C-OH","x":287.11,"y":9.3},{"s":"HGe-powder","k":"C-O/C-OH","x":286.67,"y":11.7},{"s":"HGe-powder","k":"C-O/C-OH","x":286.3,"y":14.7},{"s":"HGe-powder","k":"C-O/C-OH","x":286.07,"y":15.7},{"s":"HGe-powder","k":"C-O/C-OH","x":285.85,"y":14},{"s":"HGe-powder","k":"C-O/C-OH","x":285.56,"y":11},{"s":"HGe-powder","k":"C-O/C-OH","x":285.19,"y":9.3},{"s":"HGe-powder","k":"C-O/C-OH","x":281.49,"y":9},
      {"s":"HGe-powder","k":"C-C","x":286.37,"y":10},{"s":"HGe-powder","k":"C-C","x":286,"y":11.7},{"s":"HGe-powder","k":"C-C","x":285.7,"y":18.3},{"s":"HGe-powder","k":"C-C","x":285.41,"y":33.3},{"s":"HGe-powder","k":"C-C","x":285.19,"y":46.7},{"s":"HGe-powder","k":"C-C","x":284.96,"y":55.7},{"s":"HGe-powder","k":"C-C","x":284.74,"y":53.3},{"s":"HGe-powder","k":"C-C","x":284.52,"y":41.7},{"s":"HGe-powder","k":"C-C","x":284.3,"y":26.7},{"s":"HGe-powder","k":"C-C","x":284.07,"y":16},{"s":"HGe-powder","k":"C-C","x":283.85,"y":11},{"s":"HGe-powder","k":"C-C","x":283.48,"y":9.3},
      {"s":"HGe-powder","k":"env","x":289.93,"y":10},{"s":"HGe-powder","k":"env","x":288.74,"y":14},{"s":"HGe-powder","k":"env","x":287.85,"y":11.3},{"s":"HGe-powder","k":"env","x":286.81,"y":13.7},{"s":"HGe-powder","k":"env","x":286.07,"y":20},{"s":"HGe-powder","k":"env","x":285.63,"y":28.3},{"s":"HGe-powder","k":"env","x":285.33,"y":43.3},{"s":"HGe-powder","k":"env","x":285.04,"y":55.3},{"s":"HGe-powder","k":"env","x":284.89,"y":56.7},{"s":"HGe-powder","k":"env","x":284.67,"y":52.7},{"s":"HGe-powder","k":"env","x":284.37,"y":33.3},{"s":"HGe-powder","k":"env","x":284,"y":13.3},{"s":"HGe-powder","k":"env","x":283.41,"y":10},{"s":"HGe-powder","k":"env","x":281.49,"y":9.3}
    ],
    "c1sSep": [{"x":289.93,"x2":281.49,"y":201.7},{"x":289.93,"x2":281.49,"y":134},{"x":289.93,"x2":281.49,"y":66}],
    "c1sText": [
      {"t":"MGe-LIG","k":"sample","x":288.45,"y":260},{"t":"C 1s","k":"sample","x":286.44,"y":269.3},{"t":"C-C","k":"C-C","x":284.15,"y":251.7},
      {"t":"C-O/C-OH","k":"C-O/C-OH","x":287.11,"y":241.7},{"t":"O-C=O","k":"O-C=O","x":288.22,"y":225},
      {"t":"HGe-LIG","k":"sample","x":288.67,"y":159.3},{"t":"MGe-powder","k":"sample","x":287.78,"y":99.3},{"t":"Ge-C","k":"Ge-C","x":282.96,"y":104},
      {"t":"HGe-powder","k":"sample","x":287.85,"y":29.3}
    ],
    "o1sPts": [
      {"s":"MGe-LIG","x":536.08,"y":221.7},{"s":"MGe-LIG","x":535.8,"y":221.3},{"s":"MGe-LIG","x":535.51,"y":221.7},{"s":"MGe-LIG","x":535.23,"y":221.7},{"s":"MGe-LIG","x":534.95,"y":222},{"s":"MGe-LIG","x":534.66,"y":222.3},{"s":"MGe-LIG","x":534.38,"y":222.7},{"s":"MGe-LIG","x":534.09,"y":223.3},{"s":"MGe-LIG","x":533.81,"y":224.7},{"s":"MGe-LIG","x":533.52,"y":227.7},{"s":"MGe-LIG","x":533.24,"y":232.3},{"s":"MGe-LIG","x":532.96,"y":239},{"s":"MGe-LIG","x":532.67,"y":246.7},{"s":"MGe-LIG","x":532.39,"y":254},{"s":"MGe-LIG","x":532.1,"y":259.3},{"s":"MGe-LIG","x":531.82,"y":261.3},{"s":"MGe-LIG","x":531.54,"y":259.3},{"s":"MGe-LIG","x":531.25,"y":255.3},{"s":"MGe-LIG","x":530.97,"y":250.7},{"s":"MGe-LIG","x":530.68,"y":246.7},{"s":"MGe-LIG","x":530.4,"y":244},{"s":"MGe-LIG","x":530.12,"y":242.3},{"s":"MGe-LIG","x":529.83,"y":241},{"s":"MGe-LIG","x":529.55,"y":240},{"s":"MGe-LIG","x":529.26,"y":239.3},{"s":"MGe-LIG","x":528.98,"y":239.3},{"s":"MGe-LIG","x":528.7,"y":239},{"s":"MGe-LIG","x":528.41,"y":237.7},{"s":"MGe-LIG","x":528.13,"y":235},{"s":"MGe-LIG","x":527.84,"y":231},{"s":"MGe-LIG","x":527.56,"y":226.7},{"s":"MGe-LIG","x":527.27,"y":222.3},{"s":"MGe-LIG","x":526.99,"y":219.3},{"s":"MGe-LIG","x":526.71,"y":217.3},{"s":"MGe-LIG","x":526.42,"y":216.3},{"s":"MGe-LIG","x":526.14,"y":215.7},{"s":"MGe-LIG","x":525.85,"y":215},{"s":"MGe-LIG","x":525.57,"y":214.3},
      {"s":"HGe-LIG","x":536.08,"y":146.7},{"s":"HGe-LIG","x":535.8,"y":147},{"s":"HGe-LIG","x":535.51,"y":147},{"s":"HGe-LIG","x":535.23,"y":147.3},{"s":"HGe-LIG","x":534.95,"y":148},{"s":"HGe-LIG","x":534.66,"y":148.7},{"s":"HGe-LIG","x":534.38,"y":149.3},{"s":"HGe-LIG","x":534.09,"y":150.7},{"s":"HGe-LIG","x":533.81,"y":152.7},{"s":"HGe-LIG","x":533.52,"y":156},{"s":"HGe-LIG","x":533.24,"y":161.7},{"s":"HGe-LIG","x":532.96,"y":170.7},{"s":"HGe-LIG","x":532.67,"y":180.7},{"s":"HGe-LIG","x":532.39,"y":189.3},{"s":"HGe-LIG","x":532.1,"y":194.3},{"s":"HGe-LIG","x":531.82,"y":194.3},{"s":"HGe-LIG","x":531.54,"y":189.3},{"s":"HGe-LIG","x":531.25,"y":180.7},{"s":"HGe-LIG","x":530.97,"y":171.7},{"s":"HGe-LIG","x":530.68,"y":164.3},{"s":"HGe-LIG","x":530.4,"y":159.3},{"s":"HGe-LIG","x":530.12,"y":155.3},{"s":"HGe-LIG","x":529.83,"y":152.7},{"s":"HGe-LIG","x":529.55,"y":152},{"s":"HGe-LIG","x":529.26,"y":152.3},{"s":"HGe-LIG","x":528.98,"y":152.3},{"s":"HGe-LIG","x":528.7,"y":151.3},{"s":"HGe-LIG","x":528.41,"y":149.7},{"s":"HGe-LIG","x":528.13,"y":148},{"s":"HGe-LIG","x":527.84,"y":146.3},{"s":"HGe-LIG","x":527.56,"y":144.7},{"s":"HGe-LIG","x":527.27,"y":143.3},{"s":"HGe-LIG","x":526.99,"y":142.7},{"s":"HGe-LIG","x":526.71,"y":142.3},{"s":"HGe-LIG","x":526.42,"y":142},{"s":"HGe-LIG","x":526.14,"y":141.7},{"s":"HGe-LIG","x":525.85,"y":141.7},{"s":"HGe-LIG","x":525.57,"y":141.3},
      {"s":"MGe powder","x":536.08,"y":84},{"s":"MGe powder","x":535.8,"y":84.3},{"s":"MGe powder","x":535.51,"y":84.3},{"s":"MGe powder","x":535.23,"y":84.7},{"s":"MGe powder","x":534.95,"y":84.3},{"s":"MGe powder","x":534.66,"y":85},{"s":"MGe powder","x":534.38,"y":85.3},{"s":"MGe powder","x":534.09,"y":86},{"s":"MGe powder","x":533.81,"y":87.3},{"s":"MGe powder","x":533.52,"y":90},{"s":"MGe powder","x":533.24,"y":94},{"s":"MGe powder","x":532.96,"y":99.3},{"s":"MGe powder","x":532.67,"y":105},{"s":"MGe powder","x":532.39,"y":111},{"s":"MGe powder","x":532.1,"y":116.7},{"s":"MGe powder","x":531.82,"y":121.3},{"s":"MGe powder","x":531.54,"y":124.7},{"s":"MGe powder","x":531.25,"y":126.7},{"s":"MGe powder","x":530.97,"y":125.7},{"s":"MGe powder","x":530.68,"y":122.7},{"s":"MGe powder","x":530.4,"y":117.3},{"s":"MGe powder","x":530.12,"y":110},{"s":"MGe powder","x":529.83,"y":101.7},{"s":"MGe powder","x":529.55,"y":94.3},{"s":"MGe powder","x":529.26,"y":89},{"s":"MGe powder","x":528.98,"y":85.3},{"s":"MGe powder","x":528.7,"y":82.7},{"s":"MGe powder","x":528.41,"y":81.7},{"s":"MGe powder","x":528.13,"y":82},{"s":"MGe powder","x":527.84,"y":82.7},{"s":"MGe powder","x":527.56,"y":81.7},{"s":"MGe powder","x":527.27,"y":82.3},{"s":"MGe powder","x":526.99,"y":81},{"s":"MGe powder","x":526.71,"y":82},{"s":"MGe powder","x":526.42,"y":82.7},{"s":"MGe powder","x":526.14,"y":79.3},{"s":"MGe powder","x":525.85,"y":81.7},{"s":"MGe powder","x":525.57,"y":80},
      {"s":"HGe powder","x":536.08,"y":10},{"s":"HGe powder","x":535.8,"y":10},{"s":"HGe powder","x":535.51,"y":10},{"s":"HGe powder","x":535.23,"y":10.3},{"s":"HGe powder","x":534.95,"y":10.7},{"s":"HGe powder","x":534.66,"y":11},{"s":"HGe powder","x":534.38,"y":11.7},{"s":"HGe powder","x":534.09,"y":12.3},{"s":"HGe powder","x":533.81,"y":14},{"s":"HGe powder","x":533.52,"y":16.7},{"s":"HGe powder","x":533.24,"y":21.7},{"s":"HGe powder","x":532.96,"y":30},{"s":"HGe powder","x":532.67,"y":40.7},{"s":"HGe powder","x":532.39,"y":50},{"s":"HGe powder","x":532.1,"y":55.3},{"s":"HGe powder","x":531.82,"y":56},{"s":"HGe powder","x":531.54,"y":51.3},{"s":"HGe powder","x":531.25,"y":41.7},{"s":"HGe powder","x":530.97,"y":29.3},{"s":"HGe powder","x":530.68,"y":19.3},{"s":"HGe powder","x":530.4,"y":12.7},{"s":"HGe powder","x":530.12,"y":10},{"s":"HGe powder","x":529.83,"y":8.7},{"s":"HGe powder","x":529.55,"y":8.3},{"s":"HGe powder","x":529.26,"y":8},{"s":"HGe powder","x":528.98,"y":7.7},{"s":"HGe powder","x":528.7,"y":7.7},{"s":"HGe powder","x":528.41,"y":7.3},{"s":"HGe powder","x":528.13,"y":7.3},{"s":"HGe powder","x":527.84,"y":7},{"s":"HGe powder","x":527.56,"y":7.3},{"s":"HGe powder","x":527.27,"y":6.7},{"s":"HGe powder","x":526.99,"y":6.7},{"s":"HGe powder","x":526.71,"y":6.7},{"s":"HGe powder","x":526.42,"y":6.3},{"s":"HGe powder","x":526.14,"y":6.3},{"s":"HGe powder","x":525.85,"y":6.3},{"s":"HGe powder","x":525.57,"y":6}
    ],
    "o1sFit": [
      {"s":"MGe-LIG","k":"pink","x":531.73,"y":219.3},{"s":"MGe-LIG","k":"pink","x":530.21,"y":216.7},{"s":"MGe-LIG","k":"pink","x":528.51,"y":214.7},
      {"s":"MGe-LIG","k":"adv. O","x":536.08,"y":220.7},{"s":"MGe-LIG","k":"adv. O","x":534.19,"y":221.7},{"s":"MGe-LIG","k":"adv. O","x":533.62,"y":226},{"s":"MGe-LIG","k":"adv. O","x":533.15,"y":236.7},{"s":"MGe-LIG","k":"adv. O","x":532.67,"y":248.3},{"s":"MGe-LIG","k":"adv. O","x":532.29,"y":255},{"s":"MGe-LIG","k":"adv. O","x":532.01,"y":257.3},{"s":"MGe-LIG","k":"adv. O","x":531.73,"y":254},{"s":"MGe-LIG","k":"adv. O","x":531.35,"y":245},{"s":"MGe-LIG","k":"adv. O","x":530.97,"y":233.3},{"s":"MGe-LIG","k":"adv. O","x":530.59,"y":223.3},{"s":"MGe-LIG","k":"adv. O","x":530.21,"y":217.3},{"s":"MGe-LIG","k":"adv. O","x":529.64,"y":215},{"s":"MGe-LIG","k":"adv. O","x":528.88,"y":214},
      {"s":"MGe-LIG","k":"mid","x":532.67,"y":220.7},{"s":"MGe-LIG","k":"mid","x":531.91,"y":222.7},{"s":"MGe-LIG","k":"mid","x":531.44,"y":226.7},{"s":"MGe-LIG","k":"mid","x":531.06,"y":230.7},{"s":"MGe-LIG","k":"mid","x":530.68,"y":232.7},{"s":"MGe-LIG","k":"mid","x":530.3,"y":230},{"s":"MGe-LIG","k":"mid","x":529.83,"y":223.3},{"s":"MGe-LIG","k":"mid","x":529.36,"y":217.3},{"s":"MGe-LIG","k":"mid","x":528.88,"y":215},{"s":"MGe-LIG","k":"mid","x":525.57,"y":214},
      {"s":"MGe-LIG","k":"Ge-O","x":536.08,"y":220.7},{"s":"MGe-LIG","k":"Ge-O","x":531.73,"y":220},{"s":"MGe-LIG","k":"Ge-O","x":530.78,"y":223.3},{"s":"MGe-LIG","k":"Ge-O","x":530.02,"y":230},{"s":"MGe-LIG","k":"Ge-O","x":529.36,"y":236.7},{"s":"MGe-LIG","k":"Ge-O","x":528.73,"y":239},{"s":"MGe-LIG","k":"Ge-O","x":528.13,"y":235},{"s":"MGe-LIG","k":"Ge-O","x":527.56,"y":226.7},{"s":"MGe-LIG","k":"Ge-O","x":526.99,"y":219.3},{"s":"MGe-LIG","k":"Ge-O","x":526.42,"y":215.7},{"s":"MGe-LIG","k":"Ge-O","x":525.57,"y":214},
      {"s":"MGe-LIG","k":"env","x":536.08,"y":221.3},{"s":"MGe-LIG","k":"env","x":534.19,"y":223},{"s":"MGe-LIG","k":"env","x":533.43,"y":229},{"s":"MGe-LIG","k":"env","x":532.67,"y":247.3},{"s":"MGe-LIG","k":"env","x":532.1,"y":259.3},{"s":"MGe-LIG","k":"env","x":531.82,"y":261},{"s":"MGe-LIG","k":"env","x":531.35,"y":254},{"s":"MGe-LIG","k":"env","x":530.78,"y":246},{"s":"MGe-LIG","k":"env","x":530.02,"y":241.3},{"s":"MGe-LIG","k":"env","x":529.07,"y":239.7},{"s":"MGe-LIG","k":"env","x":528.51,"y":238.3},{"s":"MGe-LIG","k":"env","x":527.94,"y":232.3},{"s":"MGe-LIG","k":"env","x":527.18,"y":221.7},{"s":"MGe-LIG","k":"env","x":526.42,"y":216.3},{"s":"MGe-LIG","k":"env","x":525.57,"y":214.3},
      {"s":"HGe-LIG","k":"pink","x":530.78,"y":145},{"s":"HGe-LIG","k":"pink","x":528.88,"y":142.7},{"s":"HGe-LIG","k":"pink","x":526.99,"y":141.7},
      {"s":"HGe-LIG","k":"adv. O","x":536.08,"y":145.7},{"s":"HGe-LIG","k":"adv. O","x":534.19,"y":148.3},{"s":"HGe-LIG","k":"adv. O","x":533.62,"y":154},{"s":"HGe-LIG","k":"adv. O","x":533.15,"y":165},{"s":"HGe-LIG","k":"adv. O","x":532.67,"y":181.7},{"s":"HGe-LIG","k":"adv. O","x":532.29,"y":192.3},{"s":"HGe-LIG","k":"adv. O","x":532.01,"y":194},{"s":"HGe-LIG","k":"adv. O","x":531.73,"y":190.7},{"s":"HGe-LIG","k":"adv. O","x":531.35,"y":178.3},{"s":"HGe-LIG","k":"adv. O","x":530.97,"y":163.3},{"s":"HGe-LIG","k":"adv. O","x":530.59,"y":151.7},{"s":"HGe-LIG","k":"adv. O","x":530.21,"y":145.7},{"s":"HGe-LIG","k":"adv. O","x":529.64,"y":143.3},{"s":"HGe-LIG","k":"adv. O","x":528.88,"y":142.7},
      {"s":"HGe-LIG","k":"Ge-O","x":536.08,"y":145.7},{"s":"HGe-LIG","k":"Ge-O","x":531.73,"y":145.7},{"s":"HGe-LIG","k":"Ge-O","x":530.78,"y":146.7},{"s":"HGe-LIG","k":"Ge-O","x":530.02,"y":150},{"s":"HGe-LIG","k":"Ge-O","x":529.45,"y":152.7},{"s":"HGe-LIG","k":"Ge-O","x":529.07,"y":152.7},{"s":"HGe-LIG","k":"Ge-O","x":528.51,"y":150.7},{"s":"HGe-LIG","k":"Ge-O","x":527.94,"y":146.7},{"s":"HGe-LIG","k":"Ge-O","x":527.18,"y":143.3},{"s":"HGe-LIG","k":"Ge-O","x":526.42,"y":142},{"s":"HGe-LIG","k":"Ge-O","x":525.57,"y":141.3},
      {"s":"HGe-LIG","k":"env","x":536.08,"y":146.3},{"s":"HGe-LIG","k":"env","x":534.19,"y":149.7},{"s":"HGe-LIG","k":"env","x":533.43,"y":158},{"s":"HGe-LIG","k":"env","x":532.67,"y":180.7},{"s":"HGe-LIG","k":"env","x":532.1,"y":194},{"s":"HGe-LIG","k":"env","x":531.82,"y":194.7},{"s":"HGe-LIG","k":"env","x":531.25,"y":180},{"s":"HGe-LIG","k":"env","x":530.59,"y":163.3},{"s":"HGe-LIG","k":"env","x":529.83,"y":153.3},{"s":"HGe-LIG","k":"env","x":529.07,"y":152.3},{"s":"HGe-LIG","k":"env","x":528.32,"y":149},{"s":"HGe-LIG","k":"env","x":527.37,"y":143.7},{"s":"HGe-LIG","k":"env","x":525.57,"y":141.3},
      {"s":"MGe powder","k":"base","x":536.08,"y":84},{"s":"MGe powder","k":"base","x":532.67,"y":83.3},{"s":"MGe powder","k":"base","x":528.88,"y":81.7},{"s":"MGe powder","k":"base","x":525.57,"y":80.7},
      {"s":"MGe powder","k":"env2","x":536.08,"y":83.3},{"s":"MGe powder","k":"env2","x":534.19,"y":85},{"s":"MGe powder","k":"env2","x":533.43,"y":90.7},{"s":"MGe powder","k":"env2","x":532.67,"y":105},{"s":"MGe powder","k":"env2","x":531.91,"y":120},{"s":"MGe powder","k":"env2","x":531.35,"y":126.3},{"s":"MGe powder","k":"env2","x":530.97,"y":125.7},{"s":"MGe powder","k":"env2","x":530.4,"y":117.3},{"s":"MGe powder","k":"env2","x":529.83,"y":101.7},{"s":"MGe powder","k":"env2","x":529.26,"y":88.3},{"s":"MGe powder","k":"env2","x":528.7,"y":82.3},{"s":"MGe powder","k":"env2","x":527.94,"y":81},{"s":"MGe powder","k":"env2","x":525.57,"y":80},
      {"s":"HGe powder","k":"base","x":536.08,"y":9.7},{"s":"HGe powder","k":"base","x":530.78,"y":8},{"s":"HGe powder","k":"base","x":525.57,"y":6},
      {"s":"HGe powder","k":"env2","x":536.08,"y":9.3},{"s":"HGe powder","k":"env2","x":534.19,"y":11.7},{"s":"HGe powder","k":"env2","x":533.62,"y":16},{"s":"HGe powder","k":"env2","x":533.15,"y":27.3},{"s":"HGe powder","k":"env2","x":532.67,"y":43.3},{"s":"HGe powder","k":"env2","x":532.29,"y":53.3},{"s":"HGe powder","k":"env2","x":531.91,"y":56.7},{"s":"HGe powder","k":"env2","x":531.63,"y":54},{"s":"HGe powder","k":"env2","x":531.25,"y":41.7},{"s":"HGe powder","k":"env2","x":530.78,"y":21.7},{"s":"HGe powder","k":"env2","x":530.3,"y":11},{"s":"HGe powder","k":"env2","x":529.83,"y":8.3},{"s":"HGe powder","k":"env2","x":525.57,"y":6}
    ],
    "o1sText": [
      {"t":"adv. O","k":"adv. O","x":530.97,"y":271.7},{"t":"MGe-LIG","k":"sample","x":527.37,"y":265},{"t":"O 1s","k":"sample","x":534.76,"y":256.7},
      {"t":"Ge-O","k":"Ge-O","x":528.6,"y":250},{"t":"HGe-LIG","k":"sample","x":527.75,"y":164},{"t":"MGe powder","k":"sample","x":527.6,"y":101.7},{"t":"HGe powder","k":"sample","x":527.6,"y":20}
    ]
  },
  "vconcat": [
    {
      "bounds": "flush",
      "spacing": 90,
      "resolve": {"scale": {"color": "independent"}},
      "hconcat": [
        {
          "title": {"text": "a.", "dx": -33, "dy": 13},
          "width": 179, "height": 271,
          "view": {"stroke": "#000", "strokeWidth": 1.5},
          "encoding": {
            "x": {"field": "x", "type": "quantitative", "scale": {"domain": [-520, 4080], "nice": false}, "axis": {"title": "Raman shift (cm⁻¹)", "values": [0, 1000, 2000, 3000, 4000], "format": "d", "domain": false, "titlePadding": 5}},
            "y": {"field": "y", "type": "quantitative", "scale": {"domain": [0, 271], "nice": false}, "axis": {"title": "Intensity (a. u.)", "labels": false, "ticks": false, "domain": false, "titlePadding": 1}}
          },
          "layer": [
            {"data": {"name": "ramanRules"}, "mark": {"type": "rule", "strokeDash": [5, 2, 1, 2], "strokeWidth": 0.9, "color": "#444"}, "encoding": {"y2": {"field": "y2"}}},
            {"data": {"name": "raman"}, "mark": {"type": "line", "strokeWidth": 1.2, "clip": true}, "encoding": {"color": {"field": "s", "type": "nominal", "scale": {"domain": ["MGe-LIG", "HGe-LIG", "MGe powder", "HGe powder", "tag"], "range": ["#1f2ee8", "#ff00ff", "#ff0000", "#000000", "#000000"]}, "legend": null}}},
            {"data": {"name": "ramanText"}, "mark": {"type": "text", "fontSize": 13}, "encoding": {"text": {"field": "t"}, "color": {"field": "s", "type": "nominal", "scale": {"domain": ["MGe-LIG", "HGe-LIG", "MGe powder", "HGe powder", "tag"], "range": ["#1f2ee8", "#ff00ff", "#ff0000", "#000000", "#000000"]}, "legend": null}}},
            {"data": {"name": "ramanSub"}, "mark": {"type": "text", "fontSize": 9}, "encoding": {"text": {"field": "t"}, "color": {"field": "s", "type": "nominal", "scale": {"domain": ["MGe-LIG", "HGe-LIG", "MGe powder", "HGe powder", "tag"], "range": ["#1f2ee8", "#ff00ff", "#ff0000", "#000000", "#000000"]}, "legend": null}}}
          ]
        },
        {
          "title": {"text": "b.", "dx": -42, "dy": 13},
          "width": 180, "height": 271,
          "encoding": {
            "x": {"field": "x", "type": "quantitative", "scale": {"domain": [14, 50], "nice": false}, "axis": {"title": "Two theta (degree)", "values": [20, 30, 40, 50], "titlePadding": 5}},
            "y": {"field": "y", "type": "quantitative", "scale": {"domain": [0, 271], "nice": false}, "axis": {"title": "Intensity (a.u.)", "labels": false, "ticks": false, "titlePadding": 5}}
          },
          "layer": [
            {"data": {"name": "xrd"}, "mark": {"type": "line", "strokeWidth": 1.2, "clip": true}, "encoding": {"color": {"field": "s", "type": "nominal", "scale": {"domain": ["MGe-LIG", "HGe-LIG", "MGe powder", "HGe powder", "tag"], "range": ["#1f2ee8", "#ff00ff", "#ff0000", "#000000", "#000000"]}, "legend": null}}},
            {"data": {"name": "xrdSeries"}, "mark": {"type": "text", "fontSize": 13}, "encoding": {"text": {"field": "t"}, "color": {"field": "s", "type": "nominal", "scale": {"domain": ["MGe-LIG", "HGe-LIG", "MGe powder", "HGe powder", "tag"], "range": ["#1f2ee8", "#ff00ff", "#ff0000", "#000000", "#000000"]}, "legend": null}}},
            {"data": {"name": "xrdPeaks"}, "mark": {"type": "text", "fontSize": 10}, "encoding": {"text": {"field": "t"}, "color": {"field": "s", "type": "nominal", "scale": {"domain": ["MGe-LIG", "HGe-LIG", "MGe powder", "HGe powder", "tag"], "range": ["#1f2ee8", "#ff00ff", "#ff0000", "#000000", "#000000"]}, "legend": null}}}
          ]
        },
        {
          "title": {"text": "c.", "dx": -45, "dy": 13},
          "width": 178, "height": 271,
          "view": {"stroke": "#000", "strokeWidth": 1.5},
          "encoding": {
            "x": {"field": "x", "type": "quantitative", "scale": {"domain": [30, 650], "nice": false}, "axis": {"title": "Temperature (°C)", "values": [100, 200, 300, 400, 500, 600], "domain": false, "titlePadding": 5}},
            "y": {"field": "y", "type": "quantitative", "scale": {"domain": [55, 105], "nice": false, "zero": false}, "axis": {"title": "Mass (%)", "values": [60, 70, 80, 90, 100], "domain": false, "labelPadding": 3, "titlePadding": 2}}
          },
          "layer": [
            {"data": {"name": "tga"}, "mark": {"type": "line", "strokeWidth": 1.3, "clip": true}, "encoding": {"color": {"field": "s", "type": "nominal", "scale": {"domain": ["MGe-LIG", "HGe-LIG", "MGe powder", "HGe powder", "tag"], "range": ["#1f2ee8", "#ff00ff", "#ff0000", "#000000", "#000000"]}, "legend": null}}},
            {"data": {"name": "tgaText"}, "mark": {"type": "text", "fontSize": 13}, "encoding": {"text": {"field": "t"}, "color": {"field": "s", "type": "nominal", "scale": {"domain": ["MGe-LIG", "HGe-LIG", "MGe powder", "HGe powder", "tag"], "range": ["#1f2ee8", "#ff00ff", "#ff0000", "#000000", "#000000"]}, "legend": null}}}
          ]
        }
      ]
    },
    {
      "bounds": "flush",
      "spacing": 79,
      "resolve": {"scale": {"color": "independent"}},
      "hconcat": [
        {
          "title": {"text": "d.", "dx": -31, "dy": 20},
          "width": 180, "height": 270,
          "encoding": {
            "x": {"field": "x", "type": "quantitative", "scale": {"domain": [1213, 1257.1], "reverse": true, "nice": false, "zero": false}, "axis": {"title": "Binding energy (eV)", "values": [1250, 1240, 1230, 1220], "format": "d", "labelFontSize": 12.5, "labelPadding": 0, "titlePadding": 3}},
            "y": {"field": "y", "type": "quantitative", "scale": {"domain": [0, 270], "nice": false}, "axis": {"title": "Intensity (a. u.)", "labels": false, "ticks": false, "titlePadding": 11}}
          },
          "layer": [
            {"data": {"name": "ge2p"}, "transform": [{"filter": "datum.k === 'data'"}], "mark": {"type": "line", "strokeWidth": 5.5, "color": "#4a4a4a", "clip": true}, "encoding": {"detail": {"field": "s"}}},
            {"data": {"name": "ge2p"}, "transform": [{"filter": "datum.k === 'data'"}], "mark": {"type": "line", "strokeWidth": 2, "color": "#c8c8c8", "clip": true}, "encoding": {"detail": {"field": "s"}}},
            {"data": {"name": "ge2p"}, "transform": [{"filter": "datum.k !== 'data'"}], "mark": {"type": "line", "strokeWidth": 1.2, "clip": true}, "encoding": {"detail": {"field": "s"}, "color": {"field": "k", "type": "nominal", "scale": {"domain": ["data", "GeO/GeO2", "Ge-C/Ge-H", "Ge", "Ge-H", "Ge-C", "sample"], "range": ["#555555", "#ff0000", "#0000ff", "#00dd00", "#ff0000", "#0000ff", "#000000"]}, "legend": null}}},
            {"data": {"name": "ge2pText"}, "mark": {"type": "text", "fontSize": 13}, "encoding": {"text": {"field": "t"}, "color": {"field": "k", "type": "nominal", "scale": {"domain": ["data", "GeO/GeO2", "Ge-C/Ge-H", "Ge", "Ge-H", "Ge-C", "sample"], "range": ["#555555", "#ff0000", "#0000ff", "#00dd00", "#ff0000", "#0000ff", "#000000"]}, "legend": null}}},
            {"data": {"name": "ge2pSub"}, "mark": {"type": "text", "fontSize": 8.5}, "encoding": {"text": {"field": "t"}, "color": {"field": "k", "type": "nominal", "scale": {"domain": ["data", "GeO/GeO2", "Ge-C/Ge-H", "Ge", "Ge-H", "Ge-C", "sample"], "range": ["#555555", "#ff0000", "#0000ff", "#00dd00", "#ff0000", "#0000ff", "#000000"]}, "legend": null}}}
          ]
        },
        {
          "title": {"text": "e.", "dx": 3, "dy": 27},
          "width": 190, "height": 270,
          "encoding": {
            "x": {"field": "x", "type": "quantitative", "scale": {"domain": [281.49, 289.93], "reverse": true, "nice": false, "zero": false}, "axis": {"title": "Binding energy (eV)", "values": [288, 285, 282], "labelFontSize": 12.5, "labelPadding": 0, "titlePadding": 3}},
            "y": {"field": "y", "type": "quantitative", "scale": {"domain": [0, 270], "nice": false}, "axis": {"title": "Intensity (a. u.)", "labels": false, "ticks": false, "titlePadding": 4}}
          },
          "layer": [
            {"data": {"name": "c1sSep"}, "mark": {"type": "rule", "strokeWidth": 1.5, "color": "#000"}, "encoding": {"x2": {"field": "x2"}}},
            {"data": {"name": "c1sPts"}, "mark": {"type": "point", "shape": "circle", "filled": false, "size": 16, "strokeWidth": 0.8, "color": "#808080", "clip": true}, "encoding": {"detail": {"field": "s"}}},
            {"data": {"name": "c1sFit"}, "mark": {"type": "line", "strokeWidth": 1.1, "clip": true}, "encoding": {"detail": {"field": "s"}, "color": {"field": "k", "type": "nominal", "scale": {"domain": ["env", "C-C", "C-O/C-OH", "O-C=O", "Ge-C", "base", "sample"], "range": ["#3f9a3f", "#ff0000", "#ff1f8f", "#22dd22", "#00008b", "#7744dd", "#000000"]}, "legend": null}}},
            {"data": {"name": "c1sText"}, "mark": {"type": "text", "fontSize": 13}, "encoding": {"text": {"field": "t"}, "color": {"field": "k", "type": "nominal", "scale": {"domain": ["env", "C-C", "C-O/C-OH", "O-C=O", "Ge-C", "base", "sample"], "range": ["#3f9a3f", "#ff0000", "#ff1f8f", "#22dd22", "#00008b", "#7744dd", "#000000"]}, "legend": null}}}
          ]
        },
        {
          "title": {"text": "f.", "dx": -33, "dy": 25},
          "width": 190, "height": 270,
          "encoding": {
            "x": {"field": "x", "type": "quantitative", "scale": {"domain": [525.3, 536.1], "reverse": true, "nice": false, "zero": false}, "axis": {"title": "Binding energy (eV)", "values": [536, 532, 528], "labelFontSize": 12.5, "labelPadding": 0, "titlePadding": 3}},
            "y": {"field": "y", "type": "quantitative", "scale": {"domain": [0, 270], "nice": false}, "axis": {"title": "Intensity (a. u.)", "labels": false, "ticks": false, "titlePadding": 2}}
          },
          "layer": [
            {"data": {"name": "o1sPts"}, "mark": {"type": "point", "shape": "circle", "filled": false, "size": 16, "strokeWidth": 0.8, "color": "#808080", "clip": true}, "encoding": {"detail": {"field": "s"}}},
            {"data": {"name": "o1sFit"}, "mark": {"type": "line", "strokeWidth": 1.1, "clip": true}, "encoding": {"detail": {"field": "s"}, "color": {"field": "k", "type": "nominal", "scale": {"domain": ["env", "adv. O", "mid", "Ge-O", "base", "pink", "env2", "sample"], "range": ["#3f9a3f", "#ff0000", "#22ee22", "#1a1aff", "#4a4aee", "#ff77ff", "#6b4a1f", "#000000"]}, "legend": null}}},
            {"data": {"name": "o1sText"}, "mark": {"type": "text", "fontSize": 12.5}, "encoding": {"text": {"field": "t"}, "color": {"field": "k", "type": "nominal", "scale": {"domain": ["env", "adv. O", "mid", "Ge-O", "base", "pink", "env2", "sample"], "range": ["#3f9a3f", "#ff0000", "#22ee22", "#1a1aff", "#4a4aee", "#ff77ff", "#6b4a1f", "#000000"]}, "legend": null}}}
          ]
        }
      ]
    }
  ]
}
